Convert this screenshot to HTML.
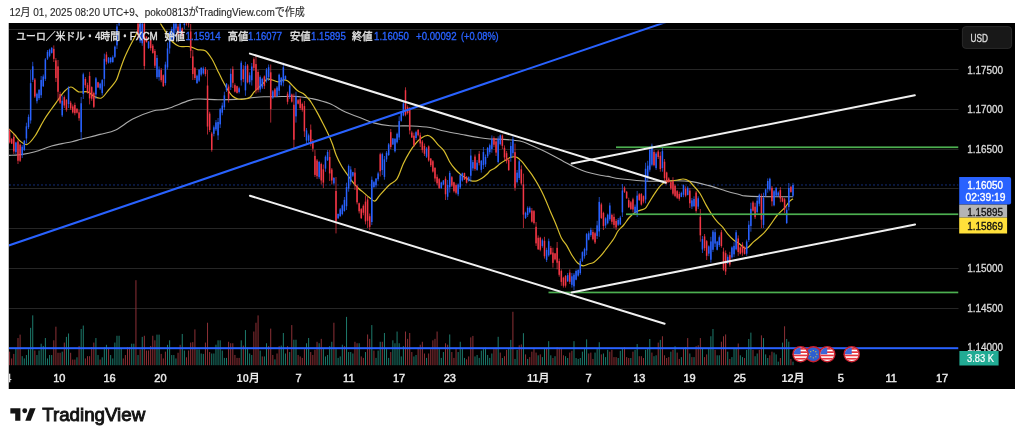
<!DOCTYPE html><html><head><meta charset="utf-8"><style>html,body{margin:0;padding:0;background:#fff;width:1024px;height:441px;overflow:hidden;position:relative}</style></head><body><svg width="1024" height="441" viewBox="0 0 1024 441" style="position:absolute;left:0;top:0">
<defs><clipPath id="pc"><rect x="9" y="23.5" width="949.5" height="365"/></clipPath><clipPath id="cc"><rect x="9" y="23.5" width="1006" height="365"/></clipPath></defs>
<text x="9.4" y="16.4" font-family="'Liberation Sans','Noto Sans CJK JP',sans-serif" font-size="11" fill="#2a2a2a" stroke="#2a2a2a" stroke-width="0.15" textLength="295.3" lengthAdjust="spacingAndGlyphs">12月 01, 2025 08:20 UTC+9、poko0813がTradingView.comで作成</text>
<rect x="9" y="23" width="1006" height="366" fill="#000"/>
<rect x="8" y="23" width="1" height="366" fill="#777" opacity="0.5"/>
<g clip-path="url(#pc)">
<rect x="9" y="29" width="950" height="1" fill="#262626"/>
<rect x="9" y="69" width="950" height="1" fill="#262626"/>
<rect x="9" y="109" width="950" height="1" fill="#262626"/>
<rect x="9" y="149" width="950" height="1" fill="#262626"/>
<rect x="9" y="188" width="950" height="1" fill="#262626"/>
<rect x="9" y="228" width="950" height="1" fill="#262626"/>
<rect x="9" y="268" width="950" height="1" fill="#262626"/>
<rect x="9" y="308" width="950" height="1" fill="#262626"/>
<rect x="9.07" y="351.63" width="1" height="13.57" fill="#8c3036"/>
<rect x="11.17" y="358.44" width="1" height="6.76" fill="#8c3036"/>
<rect x="13.28" y="353.90" width="1" height="11.30" fill="#8c3036"/>
<rect x="15.39" y="348.23" width="1" height="16.97" fill="#1d7a6c"/>
<rect x="17.49" y="338.03" width="1" height="27.17" fill="#8c3036"/>
<rect x="19.60" y="334.63" width="1" height="30.57" fill="#8c3036"/>
<rect x="21.70" y="356.17" width="1" height="9.03" fill="#1d7a6c"/>
<rect x="23.81" y="358.44" width="1" height="6.76" fill="#1d7a6c"/>
<rect x="25.92" y="355.03" width="1" height="10.17" fill="#1d7a6c"/>
<rect x="28.02" y="349.37" width="1" height="15.83" fill="#1d7a6c"/>
<rect x="30.13" y="327.82" width="1" height="37.38" fill="#1d7a6c"/>
<rect x="32.23" y="315.35" width="1" height="49.85" fill="#1d7a6c"/>
<rect x="34.34" y="350.50" width="1" height="14.70" fill="#8c3036"/>
<rect x="36.45" y="355.03" width="1" height="10.17" fill="#1d7a6c"/>
<rect x="38.55" y="350.50" width="1" height="14.70" fill="#1d7a6c"/>
<rect x="40.66" y="343.70" width="1" height="21.50" fill="#1d7a6c"/>
<rect x="42.76" y="345.96" width="1" height="19.24" fill="#1d7a6c"/>
<rect x="44.87" y="338.03" width="1" height="27.17" fill="#1d7a6c"/>
<rect x="46.98" y="358.44" width="1" height="6.76" fill="#1d7a6c"/>
<rect x="49.08" y="355.03" width="1" height="10.17" fill="#1d7a6c"/>
<rect x="51.19" y="355.03" width="1" height="10.17" fill="#1d7a6c"/>
<rect x="53.29" y="340.29" width="1" height="24.91" fill="#8c3036"/>
<rect x="55.40" y="326.69" width="1" height="38.51" fill="#8c3036"/>
<rect x="57.51" y="352.77" width="1" height="12.43" fill="#8c3036"/>
<rect x="59.61" y="352.77" width="1" height="12.43" fill="#8c3036"/>
<rect x="61.72" y="351.63" width="1" height="13.57" fill="#1d7a6c"/>
<rect x="63.82" y="342.56" width="1" height="22.64" fill="#8c3036"/>
<rect x="65.93" y="336.89" width="1" height="28.31" fill="#1d7a6c"/>
<rect x="68.04" y="333.49" width="1" height="31.71" fill="#1d7a6c"/>
<rect x="70.14" y="352.77" width="1" height="12.43" fill="#8c3036"/>
<rect x="72.25" y="359.57" width="1" height="5.63" fill="#8c3036"/>
<rect x="74.35" y="359.57" width="1" height="5.63" fill="#8c3036"/>
<rect x="76.46" y="357.30" width="1" height="7.90" fill="#1d7a6c"/>
<rect x="78.57" y="345.96" width="1" height="19.24" fill="#8c3036"/>
<rect x="80.67" y="328.96" width="1" height="36.24" fill="#1d7a6c"/>
<rect x="82.78" y="325.56" width="1" height="39.64" fill="#1d7a6c"/>
<rect x="84.88" y="358.44" width="1" height="6.76" fill="#8c3036"/>
<rect x="86.99" y="356.17" width="1" height="9.03" fill="#8c3036"/>
<rect x="89.10" y="356.17" width="1" height="9.03" fill="#8c3036"/>
<rect x="91.20" y="347.10" width="1" height="18.10" fill="#8c3036"/>
<rect x="93.31" y="342.56" width="1" height="22.64" fill="#8c3036"/>
<rect x="95.41" y="338.03" width="1" height="27.17" fill="#1d7a6c"/>
<rect x="97.52" y="355.03" width="1" height="10.17" fill="#1d7a6c"/>
<rect x="99.63" y="359.57" width="1" height="5.63" fill="#8c3036"/>
<rect x="101.73" y="357.30" width="1" height="7.90" fill="#1d7a6c"/>
<rect x="103.84" y="347.10" width="1" height="18.10" fill="#1d7a6c"/>
<rect x="105.94" y="344.83" width="1" height="20.37" fill="#1d7a6c"/>
<rect x="108.05" y="348.23" width="1" height="16.97" fill="#8c3036"/>
<rect x="110.16" y="355.03" width="1" height="10.17" fill="#1d7a6c"/>
<rect x="112.26" y="358.44" width="1" height="6.76" fill="#1d7a6c"/>
<rect x="114.37" y="342.56" width="1" height="22.64" fill="#1d7a6c"/>
<rect x="116.47" y="335.76" width="1" height="29.44" fill="#1d7a6c"/>
<rect x="118.58" y="335.76" width="1" height="29.44" fill="#1d7a6c"/>
<rect x="120.69" y="348.23" width="1" height="16.97" fill="#1d7a6c"/>
<rect x="122.79" y="358.44" width="1" height="6.76" fill="#8c3036"/>
<rect x="124.90" y="355.03" width="1" height="10.17" fill="#8c3036"/>
<rect x="127.00" y="347.10" width="1" height="18.10" fill="#8c3036"/>
<rect x="129.11" y="347.10" width="1" height="18.10" fill="#8c3036"/>
<rect x="131.22" y="343.70" width="1" height="21.50" fill="#1d7a6c"/>
<rect x="133.32" y="343.70" width="1" height="21.50" fill="#1d7a6c"/>
<rect x="135.43" y="280.20" width="1" height="85.00" fill="#8c3036"/>
<rect x="137.53" y="355.03" width="1" height="10.17" fill="#1d7a6c"/>
<rect x="139.64" y="349.37" width="1" height="15.83" fill="#8c3036"/>
<rect x="141.75" y="336.89" width="1" height="28.31" fill="#1d7a6c"/>
<rect x="143.85" y="335.76" width="1" height="29.44" fill="#8c3036"/>
<rect x="145.96" y="350.50" width="1" height="14.70" fill="#8c3036"/>
<rect x="148.06" y="350.50" width="1" height="14.70" fill="#8c3036"/>
<rect x="150.17" y="345.96" width="1" height="19.24" fill="#8c3036"/>
<rect x="152.28" y="335.76" width="1" height="29.44" fill="#8c3036"/>
<rect x="154.38" y="340.29" width="1" height="24.91" fill="#8c3036"/>
<rect x="156.49" y="334.63" width="1" height="30.57" fill="#1d7a6c"/>
<rect x="158.59" y="334.63" width="1" height="30.57" fill="#1d7a6c"/>
<rect x="160.70" y="353.90" width="1" height="11.30" fill="#8c3036"/>
<rect x="162.81" y="358.44" width="1" height="6.76" fill="#8c3036"/>
<rect x="164.91" y="351.63" width="1" height="13.57" fill="#8c3036"/>
<rect x="167.02" y="344.83" width="1" height="20.37" fill="#1d7a6c"/>
<rect x="169.12" y="340.29" width="1" height="24.91" fill="#1d7a6c"/>
<rect x="171.23" y="355.03" width="1" height="10.17" fill="#1d7a6c"/>
<rect x="173.34" y="355.03" width="1" height="10.17" fill="#1d7a6c"/>
<rect x="175.44" y="358.44" width="1" height="6.76" fill="#1d7a6c"/>
<rect x="177.55" y="352.77" width="1" height="12.43" fill="#8c3036"/>
<rect x="179.65" y="344.83" width="1" height="20.37" fill="#8c3036"/>
<rect x="181.76" y="333.95" width="1" height="31.25" fill="#1d7a6c"/>
<rect x="183.87" y="350.50" width="1" height="14.70" fill="#1d7a6c"/>
<rect x="185.97" y="357.30" width="1" height="7.90" fill="#8c3036"/>
<rect x="188.08" y="350.50" width="1" height="14.70" fill="#8c3036"/>
<rect x="190.18" y="342.56" width="1" height="22.64" fill="#8c3036"/>
<rect x="192.29" y="342.11" width="1" height="23.09" fill="#8c3036"/>
<rect x="194.40" y="329.41" width="1" height="35.79" fill="#8c3036"/>
<rect x="196.50" y="349.37" width="1" height="15.83" fill="#1d7a6c"/>
<rect x="198.61" y="349.37" width="1" height="15.83" fill="#1d7a6c"/>
<rect x="200.71" y="353.50" width="1" height="11.70" fill="#1d7a6c"/>
<rect x="202.82" y="353.90" width="1" height="11.30" fill="#1d7a6c"/>
<rect x="204.93" y="342.56" width="1" height="22.64" fill="#8c3036"/>
<rect x="207.03" y="322.74" width="1" height="42.46" fill="#8c3036"/>
<rect x="209.14" y="352.04" width="1" height="13.16" fill="#8c3036"/>
<rect x="211.24" y="353.50" width="1" height="11.70" fill="#1d7a6c"/>
<rect x="213.35" y="353.50" width="1" height="11.70" fill="#1d7a6c"/>
<rect x="215.46" y="344.71" width="1" height="20.49" fill="#1d7a6c"/>
<rect x="217.56" y="340.32" width="1" height="24.88" fill="#1d7a6c"/>
<rect x="219.67" y="340.32" width="1" height="24.88" fill="#1d7a6c"/>
<rect x="221.77" y="350.57" width="1" height="14.63" fill="#1d7a6c"/>
<rect x="223.88" y="357.90" width="1" height="7.30" fill="#1d7a6c"/>
<rect x="225.99" y="357.90" width="1" height="7.30" fill="#1d7a6c"/>
<rect x="228.09" y="341.78" width="1" height="23.42" fill="#8c3036"/>
<rect x="230.20" y="343.25" width="1" height="21.95" fill="#8c3036"/>
<rect x="232.30" y="343.25" width="1" height="21.95" fill="#8c3036"/>
<rect x="234.41" y="354.97" width="1" height="10.23" fill="#8c3036"/>
<rect x="236.52" y="357.90" width="1" height="7.30" fill="#8c3036"/>
<rect x="238.62" y="357.90" width="1" height="7.30" fill="#8c3036"/>
<rect x="240.73" y="340.32" width="1" height="24.88" fill="#1d7a6c"/>
<rect x="242.83" y="345.59" width="1" height="19.61" fill="#8c3036"/>
<rect x="244.94" y="330.06" width="1" height="35.14" fill="#1d7a6c"/>
<rect x="247.05" y="347.64" width="1" height="17.56" fill="#1d7a6c"/>
<rect x="249.15" y="353.50" width="1" height="11.70" fill="#1d7a6c"/>
<rect x="251.26" y="354.97" width="1" height="10.23" fill="#1d7a6c"/>
<rect x="253.36" y="331.53" width="1" height="33.67" fill="#8c3036"/>
<rect x="255.47" y="322.74" width="1" height="42.46" fill="#8c3036"/>
<rect x="257.58" y="315.41" width="1" height="49.79" fill="#8c3036"/>
<rect x="259.68" y="350.57" width="1" height="14.63" fill="#1d7a6c"/>
<rect x="261.79" y="356.43" width="1" height="8.77" fill="#8c3036"/>
<rect x="263.89" y="356.43" width="1" height="8.77" fill="#1d7a6c"/>
<rect x="266.00" y="343.25" width="1" height="21.95" fill="#1d7a6c"/>
<rect x="268.11" y="346.18" width="1" height="19.02" fill="#8c3036"/>
<rect x="270.21" y="328.60" width="1" height="36.60" fill="#8c3036"/>
<rect x="272.32" y="354.97" width="1" height="10.23" fill="#8c3036"/>
<rect x="274.42" y="359.36" width="1" height="5.84" fill="#1d7a6c"/>
<rect x="276.53" y="353.50" width="1" height="11.70" fill="#8c3036"/>
<rect x="278.64" y="346.18" width="1" height="19.02" fill="#8c3036"/>
<rect x="280.74" y="345.59" width="1" height="19.61" fill="#1d7a6c"/>
<rect x="282.85" y="332.99" width="1" height="32.21" fill="#1d7a6c"/>
<rect x="284.95" y="353.50" width="1" height="11.70" fill="#1d7a6c"/>
<rect x="287.06" y="346.18" width="1" height="19.02" fill="#8c3036"/>
<rect x="289.17" y="352.04" width="1" height="13.16" fill="#1d7a6c"/>
<rect x="291.27" y="325.08" width="1" height="40.12" fill="#8c3036"/>
<rect x="293.38" y="339.73" width="1" height="25.47" fill="#1d7a6c"/>
<rect x="295.48" y="339.73" width="1" height="25.47" fill="#1d7a6c"/>
<rect x="297.59" y="354.97" width="1" height="10.23" fill="#8c3036"/>
<rect x="299.70" y="356.43" width="1" height="8.77" fill="#8c3036"/>
<rect x="301.80" y="357.90" width="1" height="7.30" fill="#8c3036"/>
<rect x="303.91" y="349.11" width="1" height="16.09" fill="#8c3036"/>
<rect x="306.01" y="343.25" width="1" height="21.95" fill="#1d7a6c"/>
<rect x="308.12" y="337.98" width="1" height="27.22" fill="#1d7a6c"/>
<rect x="310.23" y="352.04" width="1" height="13.16" fill="#8c3036"/>
<rect x="312.33" y="354.97" width="1" height="10.23" fill="#8c3036"/>
<rect x="314.44" y="349.70" width="1" height="15.50" fill="#8c3036"/>
<rect x="316.54" y="341.78" width="1" height="23.42" fill="#8c3036"/>
<rect x="318.65" y="343.25" width="1" height="21.95" fill="#1d7a6c"/>
<rect x="320.76" y="338.85" width="1" height="26.35" fill="#8c3036"/>
<rect x="322.86" y="349.11" width="1" height="16.09" fill="#1d7a6c"/>
<rect x="324.97" y="356.43" width="1" height="8.77" fill="#1d7a6c"/>
<rect x="327.07" y="354.97" width="1" height="10.23" fill="#1d7a6c"/>
<rect x="329.18" y="346.18" width="1" height="19.02" fill="#1d7a6c"/>
<rect x="331.29" y="341.78" width="1" height="23.42" fill="#1d7a6c"/>
<rect x="333.39" y="322.74" width="1" height="42.46" fill="#8c3036"/>
<rect x="335.50" y="349.11" width="1" height="16.09" fill="#1d7a6c"/>
<rect x="337.60" y="357.90" width="1" height="7.30" fill="#1d7a6c"/>
<rect x="339.71" y="356.43" width="1" height="8.77" fill="#1d7a6c"/>
<rect x="341.82" y="344.71" width="1" height="20.49" fill="#1d7a6c"/>
<rect x="343.92" y="346.18" width="1" height="19.02" fill="#8c3036"/>
<rect x="346.03" y="316.88" width="1" height="48.32" fill="#1d7a6c"/>
<rect x="348.13" y="352.04" width="1" height="13.16" fill="#1d7a6c"/>
<rect x="350.24" y="352.04" width="1" height="13.16" fill="#1d7a6c"/>
<rect x="352.35" y="353.50" width="1" height="11.70" fill="#1d7a6c"/>
<rect x="354.45" y="341.78" width="1" height="23.42" fill="#8c3036"/>
<rect x="356.56" y="343.25" width="1" height="21.95" fill="#8c3036"/>
<rect x="358.66" y="343.25" width="1" height="21.95" fill="#1d7a6c"/>
<rect x="360.77" y="356.43" width="1" height="8.77" fill="#8c3036"/>
<rect x="362.88" y="357.90" width="1" height="7.30" fill="#8c3036"/>
<rect x="364.98" y="352.04" width="1" height="13.16" fill="#1d7a6c"/>
<rect x="367.09" y="334.46" width="1" height="30.74" fill="#8c3036"/>
<rect x="369.19" y="338.85" width="1" height="26.35" fill="#8c3036"/>
<rect x="371.30" y="325.08" width="1" height="40.12" fill="#1d7a6c"/>
<rect x="373.41" y="350.57" width="1" height="14.63" fill="#8c3036"/>
<rect x="375.51" y="357.90" width="1" height="7.30" fill="#1d7a6c"/>
<rect x="377.62" y="350.57" width="1" height="14.63" fill="#1d7a6c"/>
<rect x="379.72" y="341.78" width="1" height="23.42" fill="#1d7a6c"/>
<rect x="381.83" y="341.78" width="1" height="23.42" fill="#8c3036"/>
<rect x="383.94" y="332.99" width="1" height="32.21" fill="#1d7a6c"/>
<rect x="386.04" y="349.11" width="1" height="16.09" fill="#1d7a6c"/>
<rect x="388.15" y="357.90" width="1" height="7.30" fill="#1d7a6c"/>
<rect x="390.25" y="352.04" width="1" height="13.16" fill="#8c3036"/>
<rect x="392.36" y="340.32" width="1" height="24.88" fill="#1d7a6c"/>
<rect x="394.47" y="343.25" width="1" height="21.95" fill="#1d7a6c"/>
<rect x="396.57" y="331.53" width="1" height="33.67" fill="#1d7a6c"/>
<rect x="398.68" y="343.25" width="1" height="21.95" fill="#1d7a6c"/>
<rect x="400.78" y="356.43" width="1" height="8.77" fill="#1d7a6c"/>
<rect x="402.89" y="346.18" width="1" height="19.02" fill="#1d7a6c"/>
<rect x="405.00" y="331.53" width="1" height="33.67" fill="#8c3036"/>
<rect x="407.10" y="338.85" width="1" height="26.35" fill="#8c3036"/>
<rect x="409.21" y="332.99" width="1" height="32.21" fill="#8c3036"/>
<rect x="411.31" y="352.04" width="1" height="13.16" fill="#8c3036"/>
<rect x="413.42" y="356.43" width="1" height="8.77" fill="#1d7a6c"/>
<rect x="415.53" y="354.97" width="1" height="10.23" fill="#1d7a6c"/>
<rect x="417.63" y="347.64" width="1" height="17.56" fill="#8c3036"/>
<rect x="419.74" y="344.71" width="1" height="20.49" fill="#8c3036"/>
<rect x="421.84" y="341.78" width="1" height="23.42" fill="#8c3036"/>
<rect x="423.95" y="353.50" width="1" height="11.70" fill="#8c3036"/>
<rect x="426.06" y="357.90" width="1" height="7.30" fill="#1d7a6c"/>
<rect x="428.16" y="353.50" width="1" height="11.70" fill="#8c3036"/>
<rect x="430.27" y="349.11" width="1" height="16.09" fill="#8c3036"/>
<rect x="432.37" y="340.32" width="1" height="24.88" fill="#8c3036"/>
<rect x="434.48" y="338.85" width="1" height="26.35" fill="#8c3036"/>
<rect x="436.59" y="331.53" width="1" height="33.67" fill="#8c3036"/>
<rect x="438.69" y="349.11" width="1" height="16.09" fill="#1d7a6c"/>
<rect x="440.80" y="357.90" width="1" height="7.30" fill="#1d7a6c"/>
<rect x="442.90" y="352.04" width="1" height="13.16" fill="#1d7a6c"/>
<rect x="445.01" y="343.25" width="1" height="21.95" fill="#8c3036"/>
<rect x="447.12" y="344.71" width="1" height="20.49" fill="#8c3036"/>
<rect x="449.22" y="334.46" width="1" height="30.74" fill="#1d7a6c"/>
<rect x="451.33" y="352.04" width="1" height="13.16" fill="#8c3036"/>
<rect x="453.43" y="357.90" width="1" height="7.30" fill="#8c3036"/>
<rect x="455.54" y="349.11" width="1" height="16.09" fill="#8c3036"/>
<rect x="457.65" y="352.04" width="1" height="13.16" fill="#1d7a6c"/>
<rect x="459.75" y="341.78" width="1" height="23.42" fill="#1d7a6c"/>
<rect x="461.86" y="349.11" width="1" height="16.09" fill="#1d7a6c"/>
<rect x="463.96" y="357.90" width="1" height="7.30" fill="#1d7a6c"/>
<rect x="466.07" y="359.36" width="1" height="5.84" fill="#8c3036"/>
<rect x="468.18" y="356.43" width="1" height="8.77" fill="#8c3036"/>
<rect x="470.28" y="337.39" width="1" height="27.81" fill="#8c3036"/>
<rect x="472.39" y="335.92" width="1" height="29.28" fill="#8c3036"/>
<rect x="474.49" y="356.43" width="1" height="8.77" fill="#1d7a6c"/>
<rect x="476.60" y="354.97" width="1" height="10.23" fill="#1d7a6c"/>
<rect x="478.71" y="357.90" width="1" height="7.30" fill="#1d7a6c"/>
<rect x="480.81" y="350.57" width="1" height="14.63" fill="#1d7a6c"/>
<rect x="482.92" y="349.11" width="1" height="16.09" fill="#1d7a6c"/>
<rect x="485.02" y="347.64" width="1" height="17.56" fill="#1d7a6c"/>
<rect x="487.13" y="354.97" width="1" height="10.23" fill="#1d7a6c"/>
<rect x="489.24" y="357.90" width="1" height="7.30" fill="#1d7a6c"/>
<rect x="491.34" y="353.50" width="1" height="11.70" fill="#1d7a6c"/>
<rect x="493.45" y="349.11" width="1" height="16.09" fill="#8c3036"/>
<rect x="495.55" y="347.64" width="1" height="17.56" fill="#8c3036"/>
<rect x="497.66" y="336.80" width="1" height="28.40" fill="#1d7a6c"/>
<rect x="499.77" y="352.58" width="1" height="12.62" fill="#8c3036"/>
<rect x="501.87" y="358.02" width="1" height="7.18" fill="#1d7a6c"/>
<rect x="503.98" y="356.21" width="1" height="8.99" fill="#8c3036"/>
<rect x="506.08" y="349.86" width="1" height="15.34" fill="#8c3036"/>
<rect x="508.19" y="348.04" width="1" height="17.16" fill="#1d7a6c"/>
<rect x="510.30" y="339.88" width="1" height="25.32" fill="#1d7a6c"/>
<rect x="512.40" y="311.77" width="1" height="53.43" fill="#8c3036"/>
<rect x="514.51" y="358.93" width="1" height="6.27" fill="#1d7a6c"/>
<rect x="516.61" y="349.86" width="1" height="15.34" fill="#1d7a6c"/>
<rect x="518.72" y="345.32" width="1" height="19.88" fill="#8c3036"/>
<rect x="520.83" y="344.42" width="1" height="20.78" fill="#8c3036"/>
<rect x="522.93" y="333.17" width="1" height="32.03" fill="#1d7a6c"/>
<rect x="525.04" y="354.39" width="1" height="10.81" fill="#8c3036"/>
<rect x="527.14" y="358.93" width="1" height="6.27" fill="#1d7a6c"/>
<rect x="529.25" y="357.11" width="1" height="8.09" fill="#8c3036"/>
<rect x="531.36" y="351.67" width="1" height="13.53" fill="#8c3036"/>
<rect x="533.46" y="348.95" width="1" height="16.25" fill="#8c3036"/>
<rect x="535.57" y="352.58" width="1" height="12.62" fill="#8c3036"/>
<rect x="537.67" y="355.30" width="1" height="9.90" fill="#1d7a6c"/>
<rect x="539.78" y="354.39" width="1" height="10.81" fill="#8c3036"/>
<rect x="541.89" y="357.11" width="1" height="8.09" fill="#1d7a6c"/>
<rect x="543.99" y="348.95" width="1" height="16.25" fill="#1d7a6c"/>
<rect x="546.10" y="348.95" width="1" height="16.25" fill="#8c3036"/>
<rect x="548.20" y="341.15" width="1" height="24.05" fill="#1d7a6c"/>
<rect x="550.31" y="355.30" width="1" height="9.90" fill="#1d7a6c"/>
<rect x="552.42" y="358.02" width="1" height="7.18" fill="#8c3036"/>
<rect x="554.52" y="356.21" width="1" height="8.99" fill="#1d7a6c"/>
<rect x="556.63" y="347.14" width="1" height="18.06" fill="#8c3036"/>
<rect x="558.73" y="348.95" width="1" height="16.25" fill="#8c3036"/>
<rect x="560.84" y="348.04" width="1" height="17.16" fill="#8c3036"/>
<rect x="562.95" y="355.30" width="1" height="9.90" fill="#8c3036"/>
<rect x="565.05" y="356.21" width="1" height="8.99" fill="#1d7a6c"/>
<rect x="567.16" y="358.02" width="1" height="7.18" fill="#1d7a6c"/>
<rect x="569.26" y="352.58" width="1" height="12.62" fill="#8c3036"/>
<rect x="571.37" y="350.77" width="1" height="14.43" fill="#8c3036"/>
<rect x="573.48" y="341.15" width="1" height="24.05" fill="#1d7a6c"/>
<rect x="575.58" y="358.02" width="1" height="7.18" fill="#1d7a6c"/>
<rect x="577.69" y="358.93" width="1" height="6.27" fill="#1d7a6c"/>
<rect x="579.79" y="358.02" width="1" height="7.18" fill="#1d7a6c"/>
<rect x="581.90" y="351.67" width="1" height="13.53" fill="#1d7a6c"/>
<rect x="584.01" y="348.04" width="1" height="17.16" fill="#1d7a6c"/>
<rect x="586.11" y="339.34" width="1" height="25.86" fill="#1d7a6c"/>
<rect x="588.22" y="353.49" width="1" height="11.71" fill="#8c3036"/>
<rect x="590.32" y="352.58" width="1" height="12.62" fill="#8c3036"/>
<rect x="592.43" y="358.93" width="1" height="6.27" fill="#8c3036"/>
<rect x="594.54" y="352.58" width="1" height="12.62" fill="#1d7a6c"/>
<rect x="596.64" y="348.04" width="1" height="17.16" fill="#1d7a6c"/>
<rect x="598.75" y="342.24" width="1" height="22.96" fill="#1d7a6c"/>
<rect x="600.85" y="354.39" width="1" height="10.81" fill="#8c3036"/>
<rect x="602.96" y="353.49" width="1" height="11.71" fill="#1d7a6c"/>
<rect x="605.07" y="357.11" width="1" height="8.09" fill="#1d7a6c"/>
<rect x="607.17" y="349.86" width="1" height="15.34" fill="#1d7a6c"/>
<rect x="609.28" y="351.67" width="1" height="13.53" fill="#8c3036"/>
<rect x="611.38" y="349.86" width="1" height="15.34" fill="#8c3036"/>
<rect x="613.49" y="357.11" width="1" height="8.09" fill="#8c3036"/>
<rect x="615.60" y="357.11" width="1" height="8.09" fill="#8c3036"/>
<rect x="617.70" y="358.02" width="1" height="7.18" fill="#1d7a6c"/>
<rect x="619.81" y="350.77" width="1" height="14.43" fill="#1d7a6c"/>
<rect x="621.91" y="348.04" width="1" height="17.16" fill="#1d7a6c"/>
<rect x="624.02" y="347.14" width="1" height="18.06" fill="#8c3036"/>
<rect x="626.13" y="357.11" width="1" height="8.09" fill="#8c3036"/>
<rect x="628.23" y="358.02" width="1" height="7.18" fill="#8c3036"/>
<rect x="630.34" y="358.02" width="1" height="7.18" fill="#1d7a6c"/>
<rect x="632.44" y="351.67" width="1" height="13.53" fill="#8c3036"/>
<rect x="634.55" y="349.86" width="1" height="15.34" fill="#1d7a6c"/>
<rect x="636.66" y="344.05" width="1" height="21.15" fill="#1d7a6c"/>
<rect x="638.76" y="356.21" width="1" height="8.99" fill="#8c3036"/>
<rect x="640.87" y="356.21" width="1" height="8.99" fill="#8c3036"/>
<rect x="642.97" y="358.02" width="1" height="7.18" fill="#8c3036"/>
<rect x="645.08" y="349.86" width="1" height="15.34" fill="#1d7a6c"/>
<rect x="647.19" y="348.95" width="1" height="16.25" fill="#1d7a6c"/>
<rect x="649.29" y="338.98" width="1" height="26.22" fill="#1d7a6c"/>
<rect x="651.40" y="352.58" width="1" height="12.62" fill="#8c3036"/>
<rect x="653.50" y="356.21" width="1" height="8.99" fill="#1d7a6c"/>
<rect x="655.61" y="355.30" width="1" height="9.90" fill="#1d7a6c"/>
<rect x="657.72" y="342.60" width="1" height="22.60" fill="#8c3036"/>
<rect x="659.82" y="339.88" width="1" height="25.32" fill="#1d7a6c"/>
<rect x="661.93" y="336.25" width="1" height="28.95" fill="#8c3036"/>
<rect x="664.03" y="355.30" width="1" height="9.90" fill="#8c3036"/>
<rect x="666.14" y="358.02" width="1" height="7.18" fill="#8c3036"/>
<rect x="668.25" y="357.11" width="1" height="8.09" fill="#8c3036"/>
<rect x="670.35" y="351.67" width="1" height="13.53" fill="#1d7a6c"/>
<rect x="672.46" y="349.86" width="1" height="15.34" fill="#8c3036"/>
<rect x="674.56" y="346.23" width="1" height="18.97" fill="#1d7a6c"/>
<rect x="676.67" y="352.58" width="1" height="12.62" fill="#8c3036"/>
<rect x="678.78" y="358.93" width="1" height="6.27" fill="#8c3036"/>
<rect x="680.88" y="357.11" width="1" height="8.09" fill="#1d7a6c"/>
<rect x="682.99" y="348.95" width="1" height="16.25" fill="#8c3036"/>
<rect x="685.09" y="347.14" width="1" height="18.06" fill="#1d7a6c"/>
<rect x="687.20" y="338.07" width="1" height="27.13" fill="#8c3036"/>
<rect x="689.31" y="353.49" width="1" height="11.71" fill="#1d7a6c"/>
<rect x="691.41" y="357.11" width="1" height="8.09" fill="#8c3036"/>
<rect x="693.52" y="357.11" width="1" height="8.09" fill="#1d7a6c"/>
<rect x="695.62" y="346.23" width="1" height="18.97" fill="#8c3036"/>
<rect x="697.73" y="345.32" width="1" height="19.88" fill="#8c3036"/>
<rect x="699.84" y="338.07" width="1" height="27.13" fill="#8c3036"/>
<rect x="701.94" y="348.95" width="1" height="16.25" fill="#1d7a6c"/>
<rect x="704.05" y="357.11" width="1" height="8.09" fill="#8c3036"/>
<rect x="706.15" y="354.39" width="1" height="10.81" fill="#8c3036"/>
<rect x="708.26" y="348.95" width="1" height="16.25" fill="#1d7a6c"/>
<rect x="710.37" y="336.25" width="1" height="28.95" fill="#1d7a6c"/>
<rect x="712.47" y="329.00" width="1" height="36.20" fill="#1d7a6c"/>
<rect x="714.58" y="349.86" width="1" height="15.34" fill="#8c3036"/>
<rect x="716.68" y="355.30" width="1" height="9.90" fill="#1d7a6c"/>
<rect x="718.79" y="355.30" width="1" height="9.90" fill="#1d7a6c"/>
<rect x="720.90" y="341.70" width="1" height="23.50" fill="#8c3036"/>
<rect x="723.00" y="336.25" width="1" height="28.95" fill="#8c3036"/>
<rect x="725.11" y="334.44" width="1" height="30.76" fill="#8c3036"/>
<rect x="727.21" y="351.67" width="1" height="13.53" fill="#1d7a6c"/>
<rect x="729.32" y="358.93" width="1" height="6.27" fill="#8c3036"/>
<rect x="731.43" y="357.11" width="1" height="8.09" fill="#1d7a6c"/>
<rect x="733.53" y="348.04" width="1" height="17.16" fill="#1d7a6c"/>
<rect x="735.64" y="348.95" width="1" height="16.25" fill="#1d7a6c"/>
<rect x="737.74" y="343.51" width="1" height="21.69" fill="#8c3036"/>
<rect x="739.85" y="355.30" width="1" height="9.90" fill="#1d7a6c"/>
<rect x="741.96" y="357.11" width="1" height="8.09" fill="#1d7a6c"/>
<rect x="744.06" y="358.02" width="1" height="7.18" fill="#8c3036"/>
<rect x="746.17" y="349.86" width="1" height="15.34" fill="#1d7a6c"/>
<rect x="748.27" y="338.98" width="1" height="26.22" fill="#1d7a6c"/>
<rect x="750.38" y="332.63" width="1" height="32.57" fill="#1d7a6c"/>
<rect x="752.49" y="349.86" width="1" height="15.34" fill="#8c3036"/>
<rect x="754.59" y="356.21" width="1" height="8.99" fill="#1d7a6c"/>
<rect x="756.70" y="353.49" width="1" height="11.71" fill="#1d7a6c"/>
<rect x="758.80" y="349.86" width="1" height="15.34" fill="#8c3036"/>
<rect x="760.91" y="335.35" width="1" height="29.85" fill="#8c3036"/>
<rect x="763.02" y="338.07" width="1" height="27.13" fill="#1d7a6c"/>
<rect x="765.12" y="354.39" width="1" height="10.81" fill="#1d7a6c"/>
<rect x="767.23" y="358.02" width="1" height="7.18" fill="#1d7a6c"/>
<rect x="769.33" y="355.30" width="1" height="9.90" fill="#8c3036"/>
<rect x="771.44" y="351.67" width="1" height="13.53" fill="#8c3036"/>
<rect x="773.55" y="352.58" width="1" height="12.62" fill="#1d7a6c"/>
<rect x="775.65" y="354.39" width="1" height="10.81" fill="#1d7a6c"/>
<rect x="777.76" y="361.65" width="1" height="3.55" fill="#1d7a6c"/>
<rect x="779.86" y="358.02" width="1" height="7.18" fill="#8c3036"/>
<rect x="781.97" y="342.60" width="1" height="22.60" fill="#1d7a6c"/>
<rect x="784.08" y="326.28" width="1" height="38.92" fill="#8c3036"/>
<rect x="786.18" y="338.98" width="1" height="26.22" fill="#1d7a6c"/>
<rect x="788.29" y="341.70" width="1" height="23.50" fill="#1d7a6c"/>
<rect x="790.39" y="358.93" width="1" height="6.27" fill="#8c3036"/>
<rect x="792.50" y="361.65" width="1" height="3.55" fill="#1d7a6c"/>
<line x1="9" y1="184.98" x2="958.5" y2="184.98" stroke="#2962ff" stroke-width="1" stroke-dasharray="2,2" opacity="0.45"/>
<path d="M9.00,155.40 C11.25,155.23 18.17,155.02 22.50,154.40 C26.83,153.78 30.17,153.10 35.00,151.70 C39.83,150.30 47.00,147.35 51.50,146.00 C56.00,144.65 58.58,144.32 62.00,143.60 C65.42,142.88 68.67,142.47 72.00,141.70 C75.33,140.93 77.33,140.22 82.00,139.00 C86.67,137.78 94.38,135.90 100.00,134.40 C105.62,132.90 110.25,132.57 115.70,130.00 C121.15,127.43 126.48,122.17 132.70,119.00 C138.92,115.83 147.33,112.68 153.00,111.00 C158.67,109.32 160.63,110.67 166.70,108.90 C172.77,107.13 183.85,102.05 189.40,100.40 C194.95,98.75 195.23,99.10 200.00,99.00 C204.77,98.90 212.00,99.73 218.00,99.80 C224.00,99.87 230.00,99.78 236.00,99.40 C242.00,99.02 249.33,97.93 254.00,97.50 C258.67,97.07 260.67,96.92 264.00,96.80 C267.33,96.68 269.33,96.88 274.00,96.80 C278.67,96.72 287.67,96.30 292.00,96.30 C296.33,96.30 296.78,96.43 300.00,96.80 C303.22,97.17 306.38,97.37 311.30,98.50 C316.22,99.63 323.82,101.33 329.50,103.60 C335.18,105.87 340.48,109.83 345.40,112.10 C350.32,114.37 354.28,115.40 359.00,117.20 C363.72,119.00 368.53,121.48 373.70,122.90 C378.87,124.32 383.62,125.18 390.00,125.70 C396.38,126.22 405.33,125.70 412.00,126.00 C418.67,126.30 424.67,126.67 430.00,127.50 C435.33,128.33 438.67,129.83 444.00,131.00 C449.33,132.17 456.00,133.37 462.00,134.50 C468.00,135.63 475.33,137.05 480.00,137.80 C484.67,138.55 486.33,138.75 490.00,139.00 C493.67,139.25 497.00,138.97 502.00,139.30 C507.00,139.63 515.33,140.10 520.00,141.00 C524.67,141.90 526.45,143.23 530.00,144.70 C533.55,146.17 537.52,148.00 541.30,149.80 C545.08,151.60 548.92,153.52 552.70,155.50 C556.48,157.48 560.22,159.72 564.00,161.70 C567.78,163.68 571.62,165.68 575.40,167.40 C579.18,169.12 582.93,170.77 586.70,172.00 C590.47,173.23 594.45,174.07 598.00,174.80 C601.55,175.53 604.33,175.73 608.00,176.40 C611.67,177.07 614.00,178.03 620.00,178.80 C626.00,179.57 638.33,180.60 644.00,181.00 C649.67,181.40 649.33,181.23 654.00,181.20 C658.67,181.17 666.00,180.77 672.00,180.80 C678.00,180.83 684.00,180.63 690.00,181.40 C696.00,182.17 702.00,183.80 708.00,185.40 C714.00,187.00 720.83,189.48 726.00,191.00 C731.17,192.52 735.83,193.68 739.00,194.50 C742.17,195.32 741.55,195.55 745.00,195.90 C748.45,196.25 751.70,196.45 759.70,196.60 C767.70,196.75 787.45,196.77 793.00,196.80" fill="none" stroke="#aaaaaa" stroke-width="1.1"/>
<path d="M9.00,129.00 C10.00,130.00 13.17,133.00 15.00,135.00 C16.83,137.00 18.00,139.42 20.00,141.00 C22.00,142.58 24.50,145.33 27.00,144.50 C29.50,143.67 32.17,140.08 35.00,136.00 C37.83,131.92 41.25,124.50 44.00,120.00 C46.75,115.50 49.17,112.33 51.50,109.00 C53.83,105.67 55.92,102.87 58.00,100.00 C60.08,97.13 61.83,93.97 64.00,91.80 C66.17,89.63 68.58,87.00 71.00,87.00 C73.42,87.00 75.73,91.00 78.50,91.80 C81.27,92.60 85.02,91.05 87.60,91.80 C90.18,92.55 91.70,95.27 94.00,96.30 C96.30,97.33 98.97,99.05 101.40,98.00 C103.83,96.95 106.17,92.87 108.60,90.00 C111.03,87.13 114.22,83.80 116.00,80.80 C117.78,77.80 118.00,75.57 119.30,72.00 C120.60,68.43 122.18,63.40 123.80,59.40 C125.42,55.40 127.30,51.50 129.00,48.00 C130.70,44.50 132.62,41.10 134.00,38.40 C135.38,35.70 136.30,34.20 137.30,31.80 C138.30,29.40 138.88,27.30 140.00,24.00 C141.12,20.70 142.33,15.67 144.00,12.00 C145.67,8.33 148.00,2.67 150.00,2.00 C152.00,1.33 154.35,4.67 156.00,8.00 C157.65,11.33 158.48,18.35 159.90,22.00 C161.32,25.65 163.08,27.48 164.50,29.90 C165.92,32.32 167.08,34.53 168.40,36.50 C169.72,38.47 170.63,40.07 172.40,41.70 C174.17,43.33 176.73,45.50 179.00,46.30 C181.27,47.10 184.03,46.42 186.00,46.50 C187.97,46.58 188.90,46.28 190.80,46.80 C192.70,47.32 194.98,48.93 197.40,49.60 C199.82,50.27 202.90,49.27 205.30,50.80 C207.70,52.33 209.83,55.70 211.80,58.80 C213.77,61.90 215.43,66.03 217.10,69.40 C218.77,72.77 220.12,75.73 221.80,79.00 C223.48,82.27 225.38,86.12 227.20,89.00 C229.02,91.88 230.90,94.63 232.70,96.30 C234.50,97.97 235.88,98.55 238.00,99.00 C240.12,99.45 243.40,99.30 245.40,99.00 C247.40,98.70 248.50,98.42 250.00,97.20 C251.50,95.98 252.73,93.52 254.40,91.70 C256.07,89.88 258.40,87.80 260.00,86.30 C261.60,84.80 262.83,83.92 264.00,82.70 C265.17,81.48 265.62,79.45 267.00,79.00 C268.38,78.55 270.50,79.53 272.30,80.00 C274.10,80.47 275.98,81.80 277.80,81.80 C279.62,81.80 281.53,80.13 283.20,80.00 C284.87,79.87 286.28,80.10 287.80,81.00 C289.32,81.90 290.65,83.77 292.30,85.40 C293.95,87.03 295.88,89.43 297.70,90.80 C299.52,92.17 301.38,92.23 303.20,93.60 C305.02,94.97 307.25,97.52 308.60,99.00 C309.95,100.48 309.90,100.32 311.30,102.50 C312.70,104.68 315.10,108.70 317.00,112.10 C318.90,115.50 320.82,119.22 322.70,122.90 C324.58,126.58 326.65,130.60 328.30,134.20 C329.95,137.80 331.27,140.97 332.60,144.50 C333.93,148.03 334.78,151.77 336.30,155.40 C337.82,159.03 340.18,163.57 341.70,166.30 C343.22,169.03 343.72,169.37 345.40,171.80 C347.08,174.23 349.70,178.20 351.80,180.90 C353.90,183.60 356.03,186.05 358.00,188.00 C359.97,189.95 361.77,191.07 363.60,192.60 C365.43,194.13 367.13,195.78 369.00,197.20 C370.87,198.62 373.05,201.37 374.80,201.10 C376.55,200.83 377.13,198.25 379.50,195.60 C381.87,192.95 386.08,187.98 389.00,185.20 C391.92,182.42 394.62,182.47 397.00,178.90 C399.38,175.33 401.18,168.30 403.30,163.80 C405.42,159.30 407.58,155.33 409.70,151.90 C411.82,148.47 414.05,145.52 416.00,143.20 C417.95,140.88 419.45,139.30 421.40,138.00 C423.35,136.70 425.88,135.40 427.70,135.40 C429.52,135.40 430.63,136.50 432.30,138.00 C433.97,139.50 435.75,142.25 437.70,144.40 C439.65,146.55 442.02,148.02 444.00,150.90 C445.98,153.78 447.77,158.68 449.60,161.70 C451.43,164.72 453.18,166.88 455.00,169.00 C456.82,171.12 458.67,172.90 460.50,174.40 C462.33,175.90 464.18,176.93 466.00,178.00 C467.82,179.07 469.60,180.33 471.40,180.80 C473.20,181.27 474.98,181.27 476.80,180.80 C478.62,180.33 480.48,179.22 482.30,178.00 C484.12,176.78 486.42,174.70 487.70,173.50 C488.98,172.30 488.78,171.72 490.00,170.80 C491.22,169.88 493.28,169.22 495.00,168.00 C496.72,166.78 498.50,164.83 500.30,163.50 C502.10,162.17 503.98,161.05 505.80,160.00 C507.62,158.95 509.38,157.67 511.20,157.20 C513.02,156.73 514.90,156.45 516.70,157.20 C518.50,157.95 520.18,159.73 522.00,161.70 C523.82,163.67 525.77,166.57 527.60,169.00 C529.43,171.43 531.20,173.58 533.00,176.30 C534.80,179.02 536.57,181.98 538.40,185.30 C540.23,188.62 541.98,191.80 544.00,196.20 C546.02,200.60 548.50,207.00 550.50,211.70 C552.50,216.40 554.18,220.02 556.00,224.40 C557.82,228.78 559.58,234.42 561.40,238.00 C563.22,241.58 565.08,242.93 566.90,245.90 C568.72,248.87 570.50,252.95 572.30,255.80 C574.10,258.65 575.88,261.33 577.70,263.00 C579.52,264.67 581.38,265.63 583.20,265.80 C585.02,265.97 586.80,264.60 588.60,264.00 C590.40,263.40 592.10,263.42 594.00,262.20 C595.90,260.98 598.10,258.73 600.00,256.70 C601.90,254.67 603.13,252.95 605.40,250.00 C607.67,247.05 611.50,242.17 613.60,239.00 C615.70,235.83 616.32,233.33 618.00,231.00 C619.68,228.67 621.82,227.25 623.70,225.00 C625.58,222.75 627.42,219.60 629.30,217.50 C631.18,215.40 633.10,213.63 635.00,212.40 C636.90,211.17 639.00,210.77 640.70,210.10 C642.40,209.43 643.88,209.53 645.20,208.40 C646.52,207.27 647.47,205.08 648.60,203.30 C649.73,201.52 650.68,199.77 652.00,197.70 C653.32,195.63 655.00,192.98 656.50,190.90 C658.00,188.82 659.48,186.72 661.00,185.20 C662.52,183.68 663.72,182.53 665.60,181.80 C667.48,181.07 670.28,181.10 672.30,180.80 C674.32,180.50 675.88,180.30 677.70,180.00 C679.52,179.70 681.38,178.87 683.20,179.00 C685.02,179.13 686.80,179.58 688.60,180.80 C690.40,182.02 692.10,184.18 694.00,186.30 C695.90,188.42 697.95,190.32 700.00,193.50 C702.05,196.68 704.33,201.90 706.30,205.40 C708.27,208.90 709.98,211.78 711.80,214.50 C713.62,217.22 715.38,219.58 717.20,221.70 C719.02,223.82 720.90,225.08 722.70,227.20 C724.50,229.32 726.18,232.27 728.00,234.40 C729.82,236.53 731.77,238.48 733.60,240.00 C735.43,241.52 737.20,242.17 739.00,243.50 C740.80,244.83 742.90,247.33 744.40,248.00 C745.90,248.67 746.43,248.57 748.00,247.50 C749.57,246.43 751.35,243.82 753.80,241.60 C756.25,239.38 760.00,236.90 762.70,234.20 C765.40,231.50 767.55,228.60 770.00,225.40 C772.45,222.20 774.93,217.95 777.40,215.00 C779.87,212.05 782.83,209.90 784.80,207.70 C786.77,205.50 787.83,203.28 789.20,201.80 C790.57,200.32 792.37,199.30 793.00,198.80" fill="none" stroke="#d7bd2c" stroke-width="1.2"/>
<rect x="9.07" y="129.00" width="1" height="14.50" fill="#f23645" fill-opacity="0.7"/>
<rect x="8.82" y="130.66" width="1.5" height="11.67" fill="#f23645"/>
<rect x="11.17" y="138.00" width="1" height="6.00" fill="#f23645" fill-opacity="0.7"/>
<rect x="10.92" y="139.08" width="1.5" height="4.53" fill="#f23645"/>
<rect x="13.28" y="133.60" width="1" height="20.40" fill="#f23645" fill-opacity="0.7"/>
<rect x="13.03" y="136.81" width="1.5" height="14.68" fill="#f23645"/>
<rect x="15.39" y="141.70" width="1" height="12.30" fill="#2962ff" fill-opacity="0.7"/>
<rect x="15.14" y="142.46" width="1.5" height="9.68" fill="#2962ff"/>
<rect x="17.49" y="140.00" width="1" height="24.00" fill="#f23645" fill-opacity="0.7"/>
<rect x="17.24" y="141.38" width="1.5" height="19.34" fill="#f23645"/>
<rect x="19.60" y="143.50" width="1" height="18.50" fill="#f23645" fill-opacity="0.7"/>
<rect x="19.35" y="144.68" width="1.5" height="16.06" fill="#f23645"/>
<rect x="21.70" y="145.00" width="1" height="13.00" fill="#2962ff" fill-opacity="0.7"/>
<rect x="21.45" y="146.75" width="1.5" height="8.45" fill="#2962ff"/>
<rect x="23.81" y="140.00" width="1" height="11.00" fill="#2962ff" fill-opacity="0.7"/>
<rect x="23.56" y="140.82" width="1.5" height="9.14" fill="#2962ff"/>
<rect x="25.92" y="122.70" width="1" height="20.80" fill="#2962ff" fill-opacity="0.7"/>
<rect x="25.67" y="126.35" width="1.5" height="12.17" fill="#2962ff"/>
<rect x="28.02" y="114.50" width="1" height="14.50" fill="#2962ff" fill-opacity="0.7"/>
<rect x="27.77" y="116.90" width="1.5" height="10.23" fill="#2962ff"/>
<rect x="30.13" y="70.00" width="1" height="53.60" fill="#2962ff" fill-opacity="0.7"/>
<rect x="29.88" y="83.15" width="1.5" height="37.28" fill="#2962ff"/>
<rect x="32.23" y="61.80" width="1" height="20.20" fill="#2962ff" fill-opacity="0.7"/>
<rect x="31.98" y="66.28" width="1.5" height="13.54" fill="#2962ff"/>
<rect x="34.34" y="78.00" width="1" height="20.00" fill="#f23645" fill-opacity="0.7"/>
<rect x="34.09" y="79.58" width="1.5" height="16.95" fill="#f23645"/>
<rect x="36.45" y="92.60" width="1" height="10.90" fill="#2962ff" fill-opacity="0.7"/>
<rect x="36.20" y="93.82" width="1.5" height="7.36" fill="#2962ff"/>
<rect x="38.55" y="89.00" width="1" height="11.00" fill="#2962ff" fill-opacity="0.7"/>
<rect x="38.30" y="89.95" width="1.5" height="8.22" fill="#2962ff"/>
<rect x="40.66" y="76.00" width="1" height="22.00" fill="#2962ff" fill-opacity="0.7"/>
<rect x="40.41" y="79.91" width="1.5" height="15.35" fill="#2962ff"/>
<rect x="42.76" y="74.50" width="1" height="12.50" fill="#2962ff" fill-opacity="0.7"/>
<rect x="42.51" y="76.49" width="1.5" height="9.72" fill="#2962ff"/>
<rect x="44.87" y="58.00" width="1" height="23.00" fill="#2962ff" fill-opacity="0.7"/>
<rect x="44.62" y="59.42" width="1.5" height="19.48" fill="#2962ff"/>
<rect x="46.98" y="50.00" width="1" height="10.00" fill="#2962ff" fill-opacity="0.7"/>
<rect x="46.73" y="51.86" width="1.5" height="6.78" fill="#2962ff"/>
<rect x="49.08" y="48.70" width="1" height="8.53" fill="#2962ff" fill-opacity="0.7"/>
<rect x="48.83" y="49.66" width="1.5" height="6.14" fill="#2962ff"/>
<rect x="51.19" y="47.00" width="1" height="6.60" fill="#2962ff" fill-opacity="0.7"/>
<rect x="50.94" y="47.93" width="1.5" height="4.95" fill="#2962ff"/>
<rect x="53.29" y="45.40" width="1" height="16.60" fill="#f23645" fill-opacity="0.7"/>
<rect x="53.04" y="48.87" width="1.5" height="9.98" fill="#f23645"/>
<rect x="55.40" y="58.00" width="1" height="24.00" fill="#f23645" fill-opacity="0.7"/>
<rect x="55.15" y="60.37" width="1.5" height="17.67" fill="#f23645"/>
<rect x="57.51" y="60.00" width="1" height="41.00" fill="#f23645" fill-opacity="0.7"/>
<rect x="57.26" y="66.36" width="1.5" height="25.42" fill="#f23645"/>
<rect x="59.61" y="91.70" width="1" height="12.30" fill="#f23645" fill-opacity="0.7"/>
<rect x="59.36" y="94.11" width="1.5" height="8.57" fill="#f23645"/>
<rect x="61.72" y="95.40" width="1" height="21.60" fill="#2962ff" fill-opacity="0.7"/>
<rect x="61.47" y="100.71" width="1.5" height="14.70" fill="#2962ff"/>
<rect x="63.82" y="95.40" width="1" height="12.60" fill="#f23645" fill-opacity="0.7"/>
<rect x="63.57" y="97.08" width="1.5" height="8.38" fill="#f23645"/>
<rect x="65.93" y="99.00" width="1" height="12.70" fill="#f23645" fill-opacity="0.7"/>
<rect x="65.68" y="100.02" width="1.5" height="9.80" fill="#f23645"/>
<rect x="68.04" y="86.30" width="1" height="21.70" fill="#2962ff" fill-opacity="0.7"/>
<rect x="67.79" y="87.56" width="1.5" height="16.46" fill="#2962ff"/>
<rect x="70.14" y="100.80" width="1" height="9.20" fill="#f23645" fill-opacity="0.7"/>
<rect x="69.89" y="102.67" width="1.5" height="5.82" fill="#f23645"/>
<rect x="72.25" y="104.40" width="1" height="9.10" fill="#f23645" fill-opacity="0.7"/>
<rect x="72.00" y="106.45" width="1.5" height="6.03" fill="#f23645"/>
<rect x="74.35" y="102.60" width="1" height="12.70" fill="#f23645" fill-opacity="0.7"/>
<rect x="74.10" y="105.00" width="1.5" height="8.15" fill="#f23645"/>
<rect x="76.46" y="108.00" width="1" height="5.50" fill="#f23645" fill-opacity="0.7"/>
<rect x="76.21" y="108.91" width="1.5" height="3.81" fill="#f23645"/>
<rect x="78.57" y="110.00" width="1" height="10.80" fill="#f23645" fill-opacity="0.7"/>
<rect x="78.32" y="112.35" width="1.5" height="5.87" fill="#f23645"/>
<rect x="80.67" y="97.00" width="1" height="43.00" fill="#2962ff" fill-opacity="0.7"/>
<rect x="80.42" y="103.23" width="1.5" height="28.91" fill="#2962ff"/>
<rect x="82.78" y="72.70" width="1" height="26.30" fill="#2962ff" fill-opacity="0.7"/>
<rect x="82.53" y="74.33" width="1.5" height="19.66" fill="#2962ff"/>
<rect x="84.88" y="77.00" width="1" height="11.00" fill="#f23645" fill-opacity="0.7"/>
<rect x="84.63" y="78.97" width="1.5" height="6.29" fill="#f23645"/>
<rect x="86.99" y="82.70" width="1" height="10.90" fill="#f23645" fill-opacity="0.7"/>
<rect x="86.74" y="85.04" width="1.5" height="7.40" fill="#f23645"/>
<rect x="89.10" y="71.80" width="1" height="32.60" fill="#f23645" fill-opacity="0.7"/>
<rect x="88.85" y="75.95" width="1.5" height="22.47" fill="#f23645"/>
<rect x="91.20" y="86.30" width="1" height="14.50" fill="#f23645" fill-opacity="0.7"/>
<rect x="90.95" y="87.09" width="1.5" height="11.65" fill="#f23645"/>
<rect x="93.31" y="91.70" width="1" height="16.30" fill="#f23645" fill-opacity="0.7"/>
<rect x="93.06" y="93.06" width="1.5" height="13.74" fill="#f23645"/>
<rect x="95.41" y="77.00" width="1" height="22.00" fill="#2962ff" fill-opacity="0.7"/>
<rect x="95.16" y="78.36" width="1.5" height="16.16" fill="#2962ff"/>
<rect x="97.52" y="81.80" width="1" height="6.20" fill="#f23645" fill-opacity="0.7"/>
<rect x="97.27" y="82.27" width="1.5" height="5.11" fill="#f23645"/>
<rect x="99.63" y="82.70" width="1" height="7.30" fill="#2962ff" fill-opacity="0.7"/>
<rect x="99.38" y="83.64" width="1.5" height="4.73" fill="#2962ff"/>
<rect x="101.73" y="79.00" width="1" height="16.40" fill="#2962ff" fill-opacity="0.7"/>
<rect x="101.48" y="80.08" width="1.5" height="13.02" fill="#2962ff"/>
<rect x="103.84" y="53.60" width="1" height="32.70" fill="#2962ff" fill-opacity="0.7"/>
<rect x="103.59" y="58.83" width="1.5" height="20.06" fill="#2962ff"/>
<rect x="105.94" y="51.80" width="1" height="12.70" fill="#f23645" fill-opacity="0.7"/>
<rect x="105.69" y="54.52" width="1.5" height="7.15" fill="#f23645"/>
<rect x="108.05" y="57.00" width="1" height="6.60" fill="#2962ff" fill-opacity="0.7"/>
<rect x="107.80" y="57.70" width="1.5" height="5.02" fill="#2962ff"/>
<rect x="110.16" y="57.00" width="1" height="6.60" fill="#2962ff" fill-opacity="0.7"/>
<rect x="109.91" y="57.80" width="1.5" height="4.30" fill="#2962ff"/>
<rect x="112.26" y="55.40" width="1" height="7.30" fill="#2962ff" fill-opacity="0.7"/>
<rect x="112.01" y="57.16" width="1.5" height="4.95" fill="#2962ff"/>
<rect x="114.37" y="45.60" width="1" height="12.40" fill="#2962ff" fill-opacity="0.7"/>
<rect x="114.12" y="46.66" width="1.5" height="10.15" fill="#2962ff"/>
<rect x="116.47" y="24.00" width="1" height="25.00" fill="#2962ff" fill-opacity="0.7"/>
<rect x="116.22" y="26.42" width="1.5" height="18.91" fill="#2962ff"/>
<rect x="118.58" y="10.00" width="1" height="16.00" fill="#2962ff" fill-opacity="0.7"/>
<rect x="118.33" y="12.69" width="1.5" height="11.67" fill="#2962ff"/>
<rect x="120.69" y="-4.23" width="1" height="23.59" fill="#2962ff" fill-opacity="0.7"/>
<rect x="120.44" y="-3.03" width="1.5" height="19.24" fill="#2962ff"/>
<rect x="122.79" y="-20.00" width="1" height="32.00" fill="#2962ff" fill-opacity="0.7"/>
<rect x="122.54" y="-16.04" width="1.5" height="22.81" fill="#2962ff"/>
<rect x="124.90" y="-30.00" width="1" height="30.00" fill="#f23645" fill-opacity="0.7"/>
<rect x="124.65" y="-22.78" width="1.5" height="17.14" fill="#f23645"/>
<rect x="127.00" y="-30.00" width="1" height="30.00" fill="#2962ff" fill-opacity="0.7"/>
<rect x="126.75" y="-25.41" width="1.5" height="20.20" fill="#2962ff"/>
<rect x="129.11" y="-30.00" width="1" height="30.00" fill="#2962ff" fill-opacity="0.7"/>
<rect x="128.86" y="-24.44" width="1.5" height="22.62" fill="#2962ff"/>
<rect x="131.22" y="-30.00" width="1" height="30.00" fill="#f23645" fill-opacity="0.7"/>
<rect x="130.97" y="-23.10" width="1.5" height="16.92" fill="#f23645"/>
<rect x="133.32" y="-30.00" width="1" height="30.00" fill="#f23645" fill-opacity="0.7"/>
<rect x="133.07" y="-23.25" width="1.5" height="16.97" fill="#f23645"/>
<rect x="135.43" y="-30.00" width="1" height="30.00" fill="#2962ff" fill-opacity="0.7"/>
<rect x="135.18" y="-26.15" width="1.5" height="22.25" fill="#2962ff"/>
<rect x="137.53" y="15.00" width="1" height="24.50" fill="#f23645" fill-opacity="0.7"/>
<rect x="137.28" y="16.73" width="1.5" height="18.43" fill="#f23645"/>
<rect x="139.64" y="15.00" width="1" height="28.02" fill="#2962ff" fill-opacity="0.7"/>
<rect x="139.39" y="16.75" width="1.5" height="24.49" fill="#2962ff"/>
<rect x="141.75" y="15.00" width="1" height="30.80" fill="#2962ff" fill-opacity="0.7"/>
<rect x="141.50" y="17.83" width="1.5" height="25.43" fill="#2962ff"/>
<rect x="143.85" y="10.00" width="1" height="59.60" fill="#f23645" fill-opacity="0.7"/>
<rect x="143.60" y="17.03" width="1.5" height="48.96" fill="#f23645"/>
<rect x="145.96" y="36.30" width="1" height="6.30" fill="#f23645" fill-opacity="0.7"/>
<rect x="145.71" y="36.62" width="1.5" height="5.48" fill="#f23645"/>
<rect x="148.06" y="41.00" width="1" height="8.00" fill="#2962ff" fill-opacity="0.7"/>
<rect x="147.81" y="41.56" width="1.5" height="6.46" fill="#2962ff"/>
<rect x="150.17" y="39.50" width="1" height="11.10" fill="#f23645" fill-opacity="0.7"/>
<rect x="149.92" y="40.11" width="1.5" height="7.99" fill="#f23645"/>
<rect x="152.28" y="44.00" width="1" height="9.70" fill="#f23645" fill-opacity="0.7"/>
<rect x="152.03" y="45.68" width="1.5" height="7.25" fill="#f23645"/>
<rect x="154.38" y="49.00" width="1" height="19.00" fill="#f23645" fill-opacity="0.7"/>
<rect x="154.13" y="50.91" width="1.5" height="14.82" fill="#f23645"/>
<rect x="156.49" y="55.00" width="1" height="24.00" fill="#2962ff" fill-opacity="0.7"/>
<rect x="156.24" y="57.95" width="1.5" height="19.26" fill="#2962ff"/>
<rect x="158.59" y="66.40" width="1" height="14.30" fill="#2962ff" fill-opacity="0.7"/>
<rect x="158.34" y="69.54" width="1.5" height="7.60" fill="#2962ff"/>
<rect x="160.70" y="68.00" width="1" height="14.30" fill="#f23645" fill-opacity="0.7"/>
<rect x="160.45" y="70.05" width="1.5" height="10.15" fill="#f23645"/>
<rect x="162.81" y="74.40" width="1" height="12.60" fill="#f23645" fill-opacity="0.7"/>
<rect x="162.56" y="75.25" width="1.5" height="10.87" fill="#f23645"/>
<rect x="164.91" y="61.70" width="1" height="23.80" fill="#2962ff" fill-opacity="0.7"/>
<rect x="164.66" y="64.52" width="1.5" height="18.53" fill="#2962ff"/>
<rect x="167.02" y="42.60" width="1" height="27.00" fill="#2962ff" fill-opacity="0.7"/>
<rect x="166.77" y="48.43" width="1.5" height="18.95" fill="#2962ff"/>
<rect x="169.12" y="31.50" width="1" height="22.20" fill="#2962ff" fill-opacity="0.7"/>
<rect x="168.87" y="32.71" width="1.5" height="15.66" fill="#2962ff"/>
<rect x="171.23" y="26.80" width="1" height="14.20" fill="#2962ff" fill-opacity="0.7"/>
<rect x="170.98" y="29.01" width="1.5" height="10.86" fill="#2962ff"/>
<rect x="173.34" y="15.00" width="1" height="25.00" fill="#2962ff" fill-opacity="0.7"/>
<rect x="173.09" y="18.97" width="1.5" height="19.65" fill="#2962ff"/>
<rect x="175.44" y="15.00" width="1" height="18.00" fill="#2962ff" fill-opacity="0.7"/>
<rect x="175.19" y="17.80" width="1.5" height="10.78" fill="#2962ff"/>
<rect x="177.55" y="23.80" width="1" height="12.70" fill="#f23645" fill-opacity="0.7"/>
<rect x="177.30" y="26.63" width="1.5" height="7.47" fill="#f23645"/>
<rect x="179.65" y="15.00" width="1" height="19.70" fill="#2962ff" fill-opacity="0.7"/>
<rect x="179.40" y="17.01" width="1.5" height="15.26" fill="#2962ff"/>
<rect x="181.76" y="27.40" width="1" height="10.90" fill="#f23645" fill-opacity="0.7"/>
<rect x="181.51" y="28.31" width="1.5" height="7.76" fill="#f23645"/>
<rect x="183.87" y="10.00" width="1" height="19.00" fill="#2962ff" fill-opacity="0.7"/>
<rect x="183.62" y="12.97" width="1.5" height="12.12" fill="#2962ff"/>
<rect x="185.97" y="10.00" width="1" height="15.60" fill="#f23645" fill-opacity="0.7"/>
<rect x="185.72" y="11.81" width="1.5" height="12.32" fill="#f23645"/>
<rect x="188.08" y="15.00" width="1" height="12.40" fill="#f23645" fill-opacity="0.7"/>
<rect x="187.83" y="17.63" width="1.5" height="6.70" fill="#f23645"/>
<rect x="190.18" y="24.00" width="1" height="34.00" fill="#f23645" fill-opacity="0.7"/>
<rect x="189.93" y="31.50" width="1.5" height="19.32" fill="#f23645"/>
<rect x="192.29" y="50.00" width="1" height="30.00" fill="#f23645" fill-opacity="0.7"/>
<rect x="192.04" y="56.41" width="1.5" height="17.65" fill="#f23645"/>
<rect x="194.40" y="67.00" width="1" height="13.00" fill="#f23645" fill-opacity="0.7"/>
<rect x="194.15" y="68.24" width="1.5" height="9.76" fill="#f23645"/>
<rect x="196.50" y="74.60" width="1" height="9.10" fill="#2962ff" fill-opacity="0.7"/>
<rect x="196.25" y="75.70" width="1.5" height="7.49" fill="#2962ff"/>
<rect x="198.61" y="69.00" width="1" height="13.00" fill="#2962ff" fill-opacity="0.7"/>
<rect x="198.36" y="69.72" width="1.5" height="10.90" fill="#2962ff"/>
<rect x="200.71" y="67.00" width="1" height="9.40" fill="#2962ff" fill-opacity="0.7"/>
<rect x="200.46" y="67.96" width="1.5" height="6.67" fill="#2962ff"/>
<rect x="202.82" y="66.50" width="1" height="8.10" fill="#2962ff" fill-opacity="0.7"/>
<rect x="202.57" y="68.45" width="1.5" height="5.02" fill="#2962ff"/>
<rect x="204.93" y="67.00" width="1" height="9.40" fill="#f23645" fill-opacity="0.7"/>
<rect x="204.68" y="69.23" width="1.5" height="4.84" fill="#f23645"/>
<rect x="207.03" y="70.00" width="1" height="64.50" fill="#f23645" fill-opacity="0.7"/>
<rect x="206.78" y="85.54" width="1.5" height="41.03" fill="#f23645"/>
<rect x="209.14" y="111.70" width="1" height="20.30" fill="#f23645" fill-opacity="0.7"/>
<rect x="208.89" y="113.61" width="1.5" height="16.45" fill="#f23645"/>
<rect x="211.24" y="131.80" width="1" height="19.90" fill="#f23645" fill-opacity="0.7"/>
<rect x="210.99" y="133.58" width="1.5" height="16.31" fill="#f23645"/>
<rect x="213.35" y="125.40" width="1" height="10.90" fill="#2962ff" fill-opacity="0.7"/>
<rect x="213.10" y="127.31" width="1.5" height="6.49" fill="#2962ff"/>
<rect x="215.46" y="120.00" width="1" height="11.00" fill="#2962ff" fill-opacity="0.7"/>
<rect x="215.21" y="122.40" width="1.5" height="7.00" fill="#2962ff"/>
<rect x="217.56" y="118.00" width="1" height="22.00" fill="#2962ff" fill-opacity="0.7"/>
<rect x="217.31" y="121.97" width="1.5" height="13.41" fill="#2962ff"/>
<rect x="219.67" y="108.00" width="1" height="20.00" fill="#2962ff" fill-opacity="0.7"/>
<rect x="219.42" y="109.34" width="1.5" height="15.02" fill="#2962ff"/>
<rect x="221.77" y="102.60" width="1" height="12.70" fill="#2962ff" fill-opacity="0.7"/>
<rect x="221.52" y="105.55" width="1.5" height="7.13" fill="#2962ff"/>
<rect x="223.88" y="91.70" width="1" height="18.30" fill="#2962ff" fill-opacity="0.7"/>
<rect x="223.63" y="95.36" width="1.5" height="11.97" fill="#2962ff"/>
<rect x="225.99" y="83.00" width="1" height="9.00" fill="#2962ff" fill-opacity="0.7"/>
<rect x="225.74" y="83.77" width="1.5" height="6.36" fill="#2962ff"/>
<rect x="228.09" y="84.50" width="1" height="18.10" fill="#f23645" fill-opacity="0.7"/>
<rect x="227.84" y="86.61" width="1.5" height="12.19" fill="#f23645"/>
<rect x="230.20" y="68.60" width="1" height="21.40" fill="#2962ff" fill-opacity="0.7"/>
<rect x="229.95" y="73.83" width="1.5" height="13.41" fill="#2962ff"/>
<rect x="232.30" y="66.30" width="1" height="21.70" fill="#f23645" fill-opacity="0.7"/>
<rect x="232.05" y="69.13" width="1.5" height="13.68" fill="#f23645"/>
<rect x="234.41" y="83.30" width="1" height="9.10" fill="#f23645" fill-opacity="0.7"/>
<rect x="234.16" y="85.07" width="1.5" height="6.56" fill="#f23645"/>
<rect x="236.52" y="85.60" width="1" height="7.90" fill="#f23645" fill-opacity="0.7"/>
<rect x="236.27" y="86.20" width="1.5" height="6.67" fill="#f23645"/>
<rect x="238.62" y="86.70" width="1" height="6.80" fill="#2962ff" fill-opacity="0.7"/>
<rect x="238.37" y="88.27" width="1.5" height="3.79" fill="#2962ff"/>
<rect x="240.73" y="60.70" width="1" height="24.90" fill="#2962ff" fill-opacity="0.7"/>
<rect x="240.48" y="62.67" width="1.5" height="17.57" fill="#2962ff"/>
<rect x="242.83" y="65.20" width="1" height="17.00" fill="#f23645" fill-opacity="0.7"/>
<rect x="242.58" y="69.38" width="1.5" height="9.73" fill="#f23645"/>
<rect x="244.94" y="61.80" width="1" height="34.00" fill="#2962ff" fill-opacity="0.7"/>
<rect x="244.69" y="65.88" width="1.5" height="24.49" fill="#2962ff"/>
<rect x="247.05" y="64.00" width="1" height="19.30" fill="#f23645" fill-opacity="0.7"/>
<rect x="246.80" y="65.47" width="1.5" height="16.81" fill="#f23645"/>
<rect x="249.15" y="72.32" width="1" height="12.18" fill="#2962ff" fill-opacity="0.7"/>
<rect x="248.90" y="75.29" width="1.5" height="7.01" fill="#2962ff"/>
<rect x="251.26" y="63.00" width="1" height="22.60" fill="#2962ff" fill-opacity="0.7"/>
<rect x="251.01" y="66.51" width="1.5" height="13.74" fill="#2962ff"/>
<rect x="253.36" y="57.30" width="1" height="13.60" fill="#f23645" fill-opacity="0.7"/>
<rect x="253.11" y="59.16" width="1.5" height="8.69" fill="#f23645"/>
<rect x="255.47" y="56.00" width="1" height="37.50" fill="#f23645" fill-opacity="0.7"/>
<rect x="255.22" y="64.07" width="1.5" height="25.97" fill="#f23645"/>
<rect x="257.58" y="69.70" width="1" height="22.70" fill="#f23645" fill-opacity="0.7"/>
<rect x="257.33" y="71.98" width="1.5" height="17.96" fill="#f23645"/>
<rect x="259.68" y="75.40" width="1" height="17.00" fill="#2962ff" fill-opacity="0.7"/>
<rect x="259.43" y="77.07" width="1.5" height="12.49" fill="#2962ff"/>
<rect x="261.79" y="77.70" width="1" height="11.30" fill="#2962ff" fill-opacity="0.7"/>
<rect x="261.54" y="78.85" width="1.5" height="8.64" fill="#2962ff"/>
<rect x="263.89" y="75.40" width="1" height="13.60" fill="#f23645" fill-opacity="0.7"/>
<rect x="263.64" y="76.44" width="1.5" height="9.41" fill="#f23645"/>
<rect x="266.00" y="68.00" width="1" height="14.70" fill="#2962ff" fill-opacity="0.7"/>
<rect x="265.75" y="69.78" width="1.5" height="10.84" fill="#2962ff"/>
<rect x="268.11" y="64.50" width="1" height="16.50" fill="#2962ff" fill-opacity="0.7"/>
<rect x="267.86" y="67.25" width="1.5" height="9.94" fill="#2962ff"/>
<rect x="270.21" y="64.50" width="1" height="58.10" fill="#f23645" fill-opacity="0.7"/>
<rect x="269.96" y="72.29" width="1.5" height="36.74" fill="#f23645"/>
<rect x="272.32" y="90.00" width="1" height="9.00" fill="#2962ff" fill-opacity="0.7"/>
<rect x="272.07" y="91.35" width="1.5" height="6.24" fill="#2962ff"/>
<rect x="274.42" y="88.00" width="1" height="9.00" fill="#f23645" fill-opacity="0.7"/>
<rect x="274.17" y="89.39" width="1.5" height="7.12" fill="#f23645"/>
<rect x="276.53" y="86.00" width="1" height="11.00" fill="#2962ff" fill-opacity="0.7"/>
<rect x="276.28" y="87.52" width="1.5" height="8.53" fill="#2962ff"/>
<rect x="278.64" y="73.60" width="1" height="21.80" fill="#2962ff" fill-opacity="0.7"/>
<rect x="278.39" y="74.71" width="1.5" height="16.12" fill="#2962ff"/>
<rect x="280.74" y="77.00" width="1" height="9.30" fill="#2962ff" fill-opacity="0.7"/>
<rect x="280.49" y="77.79" width="1.5" height="7.17" fill="#2962ff"/>
<rect x="282.85" y="62.70" width="1" height="23.60" fill="#2962ff" fill-opacity="0.7"/>
<rect x="282.60" y="67.30" width="1.5" height="15.19" fill="#2962ff"/>
<rect x="284.95" y="75.40" width="1" height="4.60" fill="#2962ff" fill-opacity="0.7"/>
<rect x="284.70" y="75.93" width="1.5" height="3.36" fill="#2962ff"/>
<rect x="287.06" y="91.70" width="1" height="12.70" fill="#f23645" fill-opacity="0.7"/>
<rect x="286.81" y="93.75" width="1.5" height="8.03" fill="#f23645"/>
<rect x="289.17" y="84.50" width="1" height="14.50" fill="#2962ff" fill-opacity="0.7"/>
<rect x="288.92" y="85.53" width="1.5" height="11.12" fill="#2962ff"/>
<rect x="291.27" y="93.60" width="1" height="9.00" fill="#f23645" fill-opacity="0.7"/>
<rect x="291.02" y="94.50" width="1.5" height="7.15" fill="#f23645"/>
<rect x="293.38" y="93.60" width="1" height="54.40" fill="#f23645" fill-opacity="0.7"/>
<rect x="293.13" y="104.72" width="1.5" height="35.03" fill="#f23645"/>
<rect x="295.48" y="91.70" width="1" height="30.90" fill="#2962ff" fill-opacity="0.7"/>
<rect x="295.23" y="96.72" width="1.5" height="19.64" fill="#2962ff"/>
<rect x="297.59" y="99.00" width="1" height="5.40" fill="#f23645" fill-opacity="0.7"/>
<rect x="297.34" y="100.26" width="1.5" height="3.40" fill="#f23645"/>
<rect x="299.70" y="97.00" width="1" height="13.00" fill="#f23645" fill-opacity="0.7"/>
<rect x="299.45" y="99.24" width="1.5" height="8.79" fill="#f23645"/>
<rect x="301.80" y="102.60" width="1" height="9.10" fill="#f23645" fill-opacity="0.7"/>
<rect x="301.55" y="103.99" width="1.5" height="6.00" fill="#f23645"/>
<rect x="303.91" y="101.00" width="1" height="36.00" fill="#f23645" fill-opacity="0.7"/>
<rect x="303.66" y="106.06" width="1.5" height="25.30" fill="#f23645"/>
<rect x="306.01" y="128.00" width="1" height="16.50" fill="#2962ff" fill-opacity="0.7"/>
<rect x="305.76" y="130.40" width="1.5" height="10.17" fill="#2962ff"/>
<rect x="308.12" y="133.60" width="1" height="9.10" fill="#2962ff" fill-opacity="0.7"/>
<rect x="307.87" y="135.33" width="1.5" height="5.32" fill="#2962ff"/>
<rect x="310.23" y="124.50" width="1" height="21.80" fill="#f23645" fill-opacity="0.7"/>
<rect x="309.98" y="129.70" width="1.5" height="14.38" fill="#f23645"/>
<rect x="312.33" y="139.00" width="1" height="12.70" fill="#f23645" fill-opacity="0.7"/>
<rect x="312.08" y="141.06" width="1.5" height="7.61" fill="#f23645"/>
<rect x="314.44" y="150.00" width="1" height="27.00" fill="#f23645" fill-opacity="0.7"/>
<rect x="314.19" y="155.89" width="1.5" height="19.02" fill="#f23645"/>
<rect x="316.54" y="159.00" width="1" height="20.00" fill="#f23645" fill-opacity="0.7"/>
<rect x="316.29" y="160.49" width="1.5" height="15.75" fill="#f23645"/>
<rect x="318.65" y="160.80" width="1" height="18.20" fill="#2962ff" fill-opacity="0.7"/>
<rect x="318.40" y="161.97" width="1.5" height="15.24" fill="#2962ff"/>
<rect x="320.76" y="162.60" width="1" height="21.90" fill="#f23645" fill-opacity="0.7"/>
<rect x="320.51" y="164.02" width="1.5" height="16.46" fill="#f23645"/>
<rect x="322.86" y="164.50" width="1" height="23.50" fill="#f23645" fill-opacity="0.7"/>
<rect x="322.61" y="169.36" width="1.5" height="13.25" fill="#f23645"/>
<rect x="324.97" y="155.40" width="1" height="16.40" fill="#2962ff" fill-opacity="0.7"/>
<rect x="324.72" y="156.73" width="1.5" height="11.90" fill="#2962ff"/>
<rect x="327.07" y="150.00" width="1" height="11.00" fill="#2962ff" fill-opacity="0.7"/>
<rect x="326.82" y="152.00" width="1.5" height="8.13" fill="#2962ff"/>
<rect x="329.18" y="150.00" width="1" height="31.00" fill="#f23645" fill-opacity="0.7"/>
<rect x="328.93" y="157.02" width="1.5" height="16.43" fill="#f23645"/>
<rect x="331.29" y="168.00" width="1" height="16.50" fill="#f23645" fill-opacity="0.7"/>
<rect x="331.04" y="169.55" width="1.5" height="10.98" fill="#f23645"/>
<rect x="333.39" y="177.00" width="1" height="7.50" fill="#2962ff" fill-opacity="0.7"/>
<rect x="333.14" y="177.97" width="1.5" height="5.42" fill="#2962ff"/>
<rect x="335.50" y="177.00" width="1" height="56.40" fill="#f23645" fill-opacity="0.7"/>
<rect x="335.25" y="190.99" width="1.5" height="30.20" fill="#f23645"/>
<rect x="337.60" y="213.50" width="1" height="5.50" fill="#2962ff" fill-opacity="0.7"/>
<rect x="337.35" y="213.95" width="1.5" height="4.30" fill="#2962ff"/>
<rect x="339.71" y="208.00" width="1" height="9.00" fill="#2962ff" fill-opacity="0.7"/>
<rect x="339.46" y="209.38" width="1.5" height="6.56" fill="#2962ff"/>
<rect x="341.82" y="204.40" width="1" height="10.90" fill="#2962ff" fill-opacity="0.7"/>
<rect x="341.57" y="205.37" width="1.5" height="8.69" fill="#2962ff"/>
<rect x="343.92" y="197.00" width="1" height="14.70" fill="#2962ff" fill-opacity="0.7"/>
<rect x="343.67" y="199.86" width="1.5" height="11.05" fill="#2962ff"/>
<rect x="346.03" y="182.70" width="1" height="27.30" fill="#2962ff" fill-opacity="0.7"/>
<rect x="345.78" y="187.09" width="1.5" height="19.14" fill="#2962ff"/>
<rect x="348.13" y="164.50" width="1" height="27.20" fill="#2962ff" fill-opacity="0.7"/>
<rect x="347.88" y="165.96" width="1.5" height="22.58" fill="#2962ff"/>
<rect x="350.24" y="166.30" width="1" height="18.20" fill="#2962ff" fill-opacity="0.7"/>
<rect x="349.99" y="169.48" width="1.5" height="12.24" fill="#2962ff"/>
<rect x="352.35" y="171.80" width="1" height="5.20" fill="#2962ff" fill-opacity="0.7"/>
<rect x="352.10" y="172.13" width="1.5" height="3.59" fill="#2962ff"/>
<rect x="354.45" y="168.00" width="1" height="22.00" fill="#f23645" fill-opacity="0.7"/>
<rect x="354.20" y="172.57" width="1.5" height="12.06" fill="#f23645"/>
<rect x="356.56" y="184.50" width="1" height="19.90" fill="#f23645" fill-opacity="0.7"/>
<rect x="356.31" y="185.91" width="1.5" height="16.44" fill="#f23645"/>
<rect x="358.66" y="202.60" width="1" height="10.90" fill="#f23645" fill-opacity="0.7"/>
<rect x="358.41" y="203.23" width="1.5" height="8.03" fill="#f23645"/>
<rect x="360.77" y="208.00" width="1" height="11.00" fill="#f23645" fill-opacity="0.7"/>
<rect x="360.52" y="209.14" width="1.5" height="9.02" fill="#f23645"/>
<rect x="362.88" y="204.40" width="1" height="10.90" fill="#f23645" fill-opacity="0.7"/>
<rect x="362.63" y="205.87" width="1.5" height="6.90" fill="#f23645"/>
<rect x="364.98" y="195.40" width="1" height="29.00" fill="#f23645" fill-opacity="0.7"/>
<rect x="364.73" y="201.60" width="1.5" height="19.85" fill="#f23645"/>
<rect x="367.09" y="197.00" width="1" height="31.00" fill="#f23645" fill-opacity="0.7"/>
<rect x="366.84" y="199.48" width="1.5" height="21.28" fill="#f23645"/>
<rect x="369.19" y="213.50" width="1" height="16.50" fill="#f23645" fill-opacity="0.7"/>
<rect x="368.94" y="216.21" width="1.5" height="10.66" fill="#f23645"/>
<rect x="371.30" y="176.50" width="1" height="48.50" fill="#2962ff" fill-opacity="0.7"/>
<rect x="371.05" y="179.79" width="1.5" height="42.22" fill="#2962ff"/>
<rect x="373.41" y="180.80" width="1" height="7.20" fill="#2962ff" fill-opacity="0.7"/>
<rect x="373.16" y="182.15" width="1.5" height="4.88" fill="#2962ff"/>
<rect x="375.51" y="178.00" width="1" height="9.60" fill="#2962ff" fill-opacity="0.7"/>
<rect x="375.26" y="178.62" width="1.5" height="6.70" fill="#2962ff"/>
<rect x="377.62" y="171.70" width="1" height="9.60" fill="#2962ff" fill-opacity="0.7"/>
<rect x="377.37" y="173.40" width="1.5" height="5.88" fill="#2962ff"/>
<rect x="379.72" y="152.70" width="1" height="23.80" fill="#f23645" fill-opacity="0.7"/>
<rect x="379.47" y="154.29" width="1.5" height="16.95" fill="#f23645"/>
<rect x="381.83" y="152.70" width="1" height="22.30" fill="#2962ff" fill-opacity="0.7"/>
<rect x="381.58" y="154.11" width="1.5" height="15.92" fill="#2962ff"/>
<rect x="383.94" y="156.00" width="1" height="23.70" fill="#2962ff" fill-opacity="0.7"/>
<rect x="383.69" y="159.34" width="1.5" height="17.57" fill="#2962ff"/>
<rect x="386.04" y="151.00" width="1" height="11.00" fill="#2962ff" fill-opacity="0.7"/>
<rect x="385.79" y="152.77" width="1.5" height="6.64" fill="#2962ff"/>
<rect x="388.15" y="143.00" width="1" height="13.00" fill="#2962ff" fill-opacity="0.7"/>
<rect x="387.90" y="144.35" width="1.5" height="10.67" fill="#2962ff"/>
<rect x="390.25" y="129.00" width="1" height="20.00" fill="#f23645" fill-opacity="0.7"/>
<rect x="390.00" y="132.11" width="1.5" height="14.94" fill="#f23645"/>
<rect x="392.36" y="138.00" width="1" height="7.00" fill="#2962ff" fill-opacity="0.7"/>
<rect x="392.11" y="138.50" width="1.5" height="5.92" fill="#2962ff"/>
<rect x="394.47" y="138.00" width="1" height="14.60" fill="#2962ff" fill-opacity="0.7"/>
<rect x="394.22" y="138.88" width="1.5" height="12.40" fill="#2962ff"/>
<rect x="396.57" y="132.60" width="1" height="10.90" fill="#2962ff" fill-opacity="0.7"/>
<rect x="396.32" y="133.83" width="1.5" height="8.46" fill="#2962ff"/>
<rect x="398.68" y="116.30" width="1" height="23.70" fill="#2962ff" fill-opacity="0.7"/>
<rect x="398.43" y="121.09" width="1.5" height="16.36" fill="#2962ff"/>
<rect x="400.78" y="111.00" width="1" height="10.70" fill="#2962ff" fill-opacity="0.7"/>
<rect x="400.53" y="112.61" width="1.5" height="8.18" fill="#2962ff"/>
<rect x="402.89" y="101.80" width="1" height="14.50" fill="#2962ff" fill-opacity="0.7"/>
<rect x="402.64" y="103.53" width="1.5" height="11.99" fill="#2962ff"/>
<rect x="405.00" y="87.30" width="1" height="29.00" fill="#f23645" fill-opacity="0.7"/>
<rect x="404.75" y="90.20" width="1.5" height="24.56" fill="#f23645"/>
<rect x="407.10" y="105.40" width="1" height="9.10" fill="#f23645" fill-opacity="0.7"/>
<rect x="406.85" y="107.19" width="1.5" height="5.85" fill="#f23645"/>
<rect x="409.21" y="107.00" width="1" height="27.40" fill="#f23645" fill-opacity="0.7"/>
<rect x="408.96" y="109.41" width="1.5" height="21.02" fill="#f23645"/>
<rect x="411.31" y="130.80" width="1" height="7.20" fill="#f23645" fill-opacity="0.7"/>
<rect x="411.06" y="132.51" width="1.5" height="4.98" fill="#f23645"/>
<rect x="413.42" y="132.60" width="1" height="14.40" fill="#f23645" fill-opacity="0.7"/>
<rect x="413.17" y="135.68" width="1.5" height="9.36" fill="#f23645"/>
<rect x="415.53" y="130.80" width="1" height="9.20" fill="#2962ff" fill-opacity="0.7"/>
<rect x="415.28" y="132.17" width="1.5" height="5.83" fill="#2962ff"/>
<rect x="417.63" y="129.00" width="1" height="7.30" fill="#f23645" fill-opacity="0.7"/>
<rect x="417.38" y="129.94" width="1.5" height="5.26" fill="#f23645"/>
<rect x="419.74" y="132.60" width="1" height="14.40" fill="#f23645" fill-opacity="0.7"/>
<rect x="419.49" y="135.30" width="1.5" height="8.15" fill="#f23645"/>
<rect x="421.84" y="140.00" width="1" height="12.70" fill="#f23645" fill-opacity="0.7"/>
<rect x="421.59" y="141.51" width="1.5" height="8.45" fill="#f23645"/>
<rect x="423.95" y="143.50" width="1" height="12.50" fill="#f23645" fill-opacity="0.7"/>
<rect x="423.70" y="145.89" width="1.5" height="7.89" fill="#f23645"/>
<rect x="426.06" y="147.00" width="1" height="11.00" fill="#2962ff" fill-opacity="0.7"/>
<rect x="425.81" y="148.44" width="1.5" height="8.25" fill="#2962ff"/>
<rect x="428.16" y="145.40" width="1" height="16.30" fill="#f23645" fill-opacity="0.7"/>
<rect x="427.91" y="146.39" width="1.5" height="14.07" fill="#f23645"/>
<rect x="430.27" y="158.00" width="1" height="9.00" fill="#f23645" fill-opacity="0.7"/>
<rect x="430.02" y="158.58" width="1.5" height="6.64" fill="#f23645"/>
<rect x="432.37" y="160.00" width="1" height="12.60" fill="#f23645" fill-opacity="0.7"/>
<rect x="432.12" y="161.27" width="1.5" height="10.28" fill="#f23645"/>
<rect x="434.48" y="167.00" width="1" height="14.70" fill="#f23645" fill-opacity="0.7"/>
<rect x="434.23" y="167.98" width="1.5" height="10.51" fill="#f23645"/>
<rect x="436.59" y="174.40" width="1" height="10.90" fill="#f23645" fill-opacity="0.7"/>
<rect x="436.34" y="176.84" width="1.5" height="6.45" fill="#f23645"/>
<rect x="438.69" y="178.00" width="1" height="11.00" fill="#f23645" fill-opacity="0.7"/>
<rect x="438.44" y="179.17" width="1.5" height="8.75" fill="#f23645"/>
<rect x="440.80" y="181.70" width="1" height="7.30" fill="#2962ff" fill-opacity="0.7"/>
<rect x="440.55" y="182.49" width="1.5" height="5.47" fill="#2962ff"/>
<rect x="442.90" y="180.00" width="1" height="5.30" fill="#2962ff" fill-opacity="0.7"/>
<rect x="442.65" y="180.43" width="1.5" height="4.13" fill="#2962ff"/>
<rect x="445.01" y="176.30" width="1" height="23.70" fill="#f23645" fill-opacity="0.7"/>
<rect x="444.76" y="178.73" width="1.5" height="15.52" fill="#f23645"/>
<rect x="447.12" y="180.00" width="1" height="20.00" fill="#2962ff" fill-opacity="0.7"/>
<rect x="446.87" y="184.89" width="1.5" height="11.92" fill="#2962ff"/>
<rect x="449.22" y="170.80" width="1" height="21.80" fill="#2962ff" fill-opacity="0.7"/>
<rect x="448.97" y="172.96" width="1.5" height="14.34" fill="#2962ff"/>
<rect x="451.33" y="176.00" width="1" height="11.00" fill="#f23645" fill-opacity="0.7"/>
<rect x="451.08" y="177.23" width="1.5" height="8.43" fill="#f23645"/>
<rect x="453.43" y="181.70" width="1" height="10.90" fill="#f23645" fill-opacity="0.7"/>
<rect x="453.18" y="182.25" width="1.5" height="8.98" fill="#f23645"/>
<rect x="455.54" y="183.50" width="1" height="10.90" fill="#f23645" fill-opacity="0.7"/>
<rect x="455.29" y="185.08" width="1.5" height="7.68" fill="#f23645"/>
<rect x="457.65" y="183.50" width="1" height="12.70" fill="#2962ff" fill-opacity="0.7"/>
<rect x="457.40" y="184.65" width="1.5" height="9.64" fill="#2962ff"/>
<rect x="459.75" y="174.40" width="1" height="14.60" fill="#2962ff" fill-opacity="0.7"/>
<rect x="459.50" y="175.14" width="1.5" height="12.35" fill="#2962ff"/>
<rect x="461.86" y="172.60" width="1" height="9.10" fill="#2962ff" fill-opacity="0.7"/>
<rect x="461.61" y="173.22" width="1.5" height="7.30" fill="#2962ff"/>
<rect x="463.96" y="172.60" width="1" height="7.40" fill="#f23645" fill-opacity="0.7"/>
<rect x="463.71" y="173.03" width="1.5" height="6.57" fill="#f23645"/>
<rect x="466.07" y="176.00" width="1" height="7.50" fill="#f23645" fill-opacity="0.7"/>
<rect x="465.82" y="176.83" width="1.5" height="5.94" fill="#f23645"/>
<rect x="468.18" y="176.30" width="1" height="5.40" fill="#2962ff" fill-opacity="0.7"/>
<rect x="467.93" y="177.20" width="1.5" height="3.66" fill="#2962ff"/>
<rect x="470.28" y="149.00" width="1" height="32.70" fill="#2962ff" fill-opacity="0.7"/>
<rect x="470.03" y="155.54" width="1.5" height="20.22" fill="#2962ff"/>
<rect x="472.39" y="160.00" width="1" height="10.80" fill="#2962ff" fill-opacity="0.7"/>
<rect x="472.14" y="162.09" width="1.5" height="6.27" fill="#2962ff"/>
<rect x="474.49" y="154.50" width="1" height="16.30" fill="#f23645" fill-opacity="0.7"/>
<rect x="474.24" y="156.58" width="1.5" height="12.34" fill="#f23645"/>
<rect x="476.60" y="160.00" width="1" height="10.80" fill="#2962ff" fill-opacity="0.7"/>
<rect x="476.35" y="162.67" width="1.5" height="7.27" fill="#2962ff"/>
<rect x="478.71" y="151.00" width="1" height="14.40" fill="#f23645" fill-opacity="0.7"/>
<rect x="478.46" y="153.81" width="1.5" height="9.02" fill="#f23645"/>
<rect x="480.81" y="160.00" width="1" height="12.60" fill="#2962ff" fill-opacity="0.7"/>
<rect x="480.56" y="160.74" width="1.5" height="9.12" fill="#2962ff"/>
<rect x="482.92" y="147.00" width="1" height="22.00" fill="#2962ff" fill-opacity="0.7"/>
<rect x="482.67" y="152.02" width="1.5" height="13.12" fill="#2962ff"/>
<rect x="485.02" y="154.50" width="1" height="12.50" fill="#2962ff" fill-opacity="0.7"/>
<rect x="484.77" y="156.96" width="1.5" height="7.38" fill="#2962ff"/>
<rect x="487.13" y="147.00" width="1" height="11.00" fill="#2962ff" fill-opacity="0.7"/>
<rect x="486.88" y="147.86" width="1.5" height="8.44" fill="#2962ff"/>
<rect x="489.24" y="143.60" width="1" height="10.90" fill="#2962ff" fill-opacity="0.7"/>
<rect x="488.99" y="145.24" width="1.5" height="6.89" fill="#2962ff"/>
<rect x="491.34" y="135.40" width="1" height="17.30" fill="#2962ff" fill-opacity="0.7"/>
<rect x="491.09" y="139.05" width="1.5" height="9.93" fill="#2962ff"/>
<rect x="493.45" y="136.30" width="1" height="10.90" fill="#f23645" fill-opacity="0.7"/>
<rect x="493.20" y="138.12" width="1.5" height="6.59" fill="#f23645"/>
<rect x="495.55" y="138.00" width="1" height="18.00" fill="#f23645" fill-opacity="0.7"/>
<rect x="495.30" y="141.36" width="1.5" height="11.25" fill="#f23645"/>
<rect x="497.66" y="136.30" width="1" height="27.20" fill="#2962ff" fill-opacity="0.7"/>
<rect x="497.41" y="138.91" width="1.5" height="23.06" fill="#2962ff"/>
<rect x="499.77" y="134.50" width="1" height="10.90" fill="#2962ff" fill-opacity="0.7"/>
<rect x="499.52" y="135.34" width="1.5" height="8.73" fill="#2962ff"/>
<rect x="501.87" y="134.50" width="1" height="14.50" fill="#f23645" fill-opacity="0.7"/>
<rect x="501.62" y="135.53" width="1.5" height="10.32" fill="#f23645"/>
<rect x="503.98" y="145.40" width="1" height="14.60" fill="#f23645" fill-opacity="0.7"/>
<rect x="503.73" y="147.76" width="1.5" height="9.68" fill="#f23645"/>
<rect x="506.08" y="151.00" width="1" height="12.50" fill="#f23645" fill-opacity="0.7"/>
<rect x="505.83" y="153.19" width="1.5" height="7.98" fill="#f23645"/>
<rect x="508.19" y="158.00" width="1" height="12.80" fill="#f23645" fill-opacity="0.7"/>
<rect x="507.94" y="159.89" width="1.5" height="10.26" fill="#f23645"/>
<rect x="510.30" y="141.80" width="1" height="19.90" fill="#2962ff" fill-opacity="0.7"/>
<rect x="510.05" y="145.97" width="1.5" height="11.76" fill="#2962ff"/>
<rect x="512.40" y="136.30" width="1" height="20.00" fill="#2962ff" fill-opacity="0.7"/>
<rect x="512.15" y="139.31" width="1.5" height="13.85" fill="#2962ff"/>
<rect x="514.51" y="143.60" width="1" height="47.20" fill="#f23645" fill-opacity="0.7"/>
<rect x="514.26" y="152.18" width="1.5" height="35.63" fill="#f23645"/>
<rect x="516.61" y="170.00" width="1" height="13.50" fill="#2962ff" fill-opacity="0.7"/>
<rect x="516.36" y="172.66" width="1.5" height="9.48" fill="#2962ff"/>
<rect x="518.72" y="160.00" width="1" height="20.00" fill="#2962ff" fill-opacity="0.7"/>
<rect x="518.47" y="161.30" width="1.5" height="16.64" fill="#2962ff"/>
<rect x="520.83" y="165.40" width="1" height="19.90" fill="#f23645" fill-opacity="0.7"/>
<rect x="520.58" y="169.30" width="1.5" height="14.19" fill="#f23645"/>
<rect x="522.93" y="173.60" width="1" height="54.40" fill="#f23645" fill-opacity="0.7"/>
<rect x="522.68" y="184.37" width="1.5" height="30.29" fill="#f23645"/>
<rect x="525.04" y="211.70" width="1" height="7.30" fill="#2962ff" fill-opacity="0.7"/>
<rect x="524.79" y="212.79" width="1.5" height="5.29" fill="#2962ff"/>
<rect x="527.14" y="206.30" width="1" height="10.70" fill="#2962ff" fill-opacity="0.7"/>
<rect x="526.89" y="207.86" width="1.5" height="7.14" fill="#2962ff"/>
<rect x="529.25" y="206.30" width="1" height="7.20" fill="#2962ff" fill-opacity="0.7"/>
<rect x="529.00" y="207.76" width="1.5" height="4.49" fill="#2962ff"/>
<rect x="531.36" y="208.00" width="1" height="14.60" fill="#f23645" fill-opacity="0.7"/>
<rect x="531.11" y="210.61" width="1.5" height="11.04" fill="#f23645"/>
<rect x="533.46" y="210.00" width="1" height="14.40" fill="#f23645" fill-opacity="0.7"/>
<rect x="533.21" y="211.14" width="1.5" height="11.80" fill="#f23645"/>
<rect x="535.57" y="222.00" width="1" height="24.00" fill="#f23645" fill-opacity="0.7"/>
<rect x="535.32" y="226.77" width="1.5" height="16.57" fill="#f23645"/>
<rect x="537.67" y="235.40" width="1" height="14.60" fill="#f23645" fill-opacity="0.7"/>
<rect x="537.42" y="237.79" width="1.5" height="11.45" fill="#f23645"/>
<rect x="539.78" y="236.80" width="1" height="14.50" fill="#f23645" fill-opacity="0.7"/>
<rect x="539.53" y="237.70" width="1.5" height="12.09" fill="#f23645"/>
<rect x="541.89" y="238.60" width="1" height="9.10" fill="#2962ff" fill-opacity="0.7"/>
<rect x="541.64" y="240.28" width="1.5" height="5.71" fill="#2962ff"/>
<rect x="543.99" y="236.80" width="1" height="21.80" fill="#f23645" fill-opacity="0.7"/>
<rect x="543.74" y="240.84" width="1.5" height="15.41" fill="#f23645"/>
<rect x="546.10" y="247.70" width="1" height="14.30" fill="#2962ff" fill-opacity="0.7"/>
<rect x="545.85" y="249.89" width="1.5" height="10.06" fill="#2962ff"/>
<rect x="548.20" y="238.60" width="1" height="18.10" fill="#2962ff" fill-opacity="0.7"/>
<rect x="547.95" y="241.19" width="1.5" height="14.17" fill="#2962ff"/>
<rect x="550.31" y="245.90" width="1" height="9.10" fill="#f23645" fill-opacity="0.7"/>
<rect x="550.06" y="247.98" width="1.5" height="6.20" fill="#f23645"/>
<rect x="552.42" y="247.70" width="1" height="19.90" fill="#f23645" fill-opacity="0.7"/>
<rect x="552.17" y="252.59" width="1.5" height="10.29" fill="#f23645"/>
<rect x="554.52" y="253.00" width="1" height="7.40" fill="#f23645" fill-opacity="0.7"/>
<rect x="554.27" y="253.40" width="1.5" height="5.95" fill="#f23645"/>
<rect x="556.63" y="242.00" width="1" height="27.40" fill="#f23645" fill-opacity="0.7"/>
<rect x="556.38" y="247.86" width="1.5" height="14.86" fill="#f23645"/>
<rect x="558.73" y="258.60" width="1" height="18.10" fill="#f23645" fill-opacity="0.7"/>
<rect x="558.48" y="261.13" width="1.5" height="13.69" fill="#f23645"/>
<rect x="560.84" y="269.40" width="1" height="16.40" fill="#f23645" fill-opacity="0.7"/>
<rect x="560.59" y="270.91" width="1.5" height="10.97" fill="#f23645"/>
<rect x="562.95" y="276.70" width="1" height="10.90" fill="#f23645" fill-opacity="0.7"/>
<rect x="562.70" y="277.70" width="1.5" height="8.08" fill="#f23645"/>
<rect x="565.05" y="275.00" width="1" height="12.60" fill="#f23645" fill-opacity="0.7"/>
<rect x="564.80" y="275.99" width="1.5" height="9.66" fill="#f23645"/>
<rect x="567.16" y="273.00" width="1" height="9.00" fill="#2962ff" fill-opacity="0.7"/>
<rect x="566.91" y="275.16" width="1.5" height="6.15" fill="#2962ff"/>
<rect x="569.26" y="269.40" width="1" height="14.60" fill="#f23645" fill-opacity="0.7"/>
<rect x="569.01" y="272.53" width="1.5" height="9.26" fill="#f23645"/>
<rect x="571.37" y="273.00" width="1" height="14.60" fill="#2962ff" fill-opacity="0.7"/>
<rect x="571.12" y="276.32" width="1.5" height="8.50" fill="#2962ff"/>
<rect x="573.48" y="273.00" width="1" height="17.30" fill="#2962ff" fill-opacity="0.7"/>
<rect x="573.23" y="274.67" width="1.5" height="11.66" fill="#2962ff"/>
<rect x="575.58" y="269.40" width="1" height="10.90" fill="#2962ff" fill-opacity="0.7"/>
<rect x="575.33" y="271.00" width="1.5" height="8.70" fill="#2962ff"/>
<rect x="577.69" y="269.40" width="1" height="7.30" fill="#2962ff" fill-opacity="0.7"/>
<rect x="577.44" y="269.77" width="1.5" height="5.85" fill="#2962ff"/>
<rect x="579.79" y="258.60" width="1" height="16.40" fill="#2962ff" fill-opacity="0.7"/>
<rect x="579.54" y="260.90" width="1.5" height="12.29" fill="#2962ff"/>
<rect x="581.90" y="251.30" width="1" height="10.70" fill="#2962ff" fill-opacity="0.7"/>
<rect x="581.65" y="252.14" width="1.5" height="8.59" fill="#2962ff"/>
<rect x="584.01" y="247.70" width="1" height="10.90" fill="#2962ff" fill-opacity="0.7"/>
<rect x="583.76" y="248.93" width="1.5" height="7.29" fill="#2962ff"/>
<rect x="586.11" y="233.00" width="1" height="22.00" fill="#2962ff" fill-opacity="0.7"/>
<rect x="585.86" y="234.11" width="1.5" height="16.49" fill="#2962ff"/>
<rect x="588.22" y="231.30" width="1" height="9.10" fill="#2962ff" fill-opacity="0.7"/>
<rect x="587.97" y="233.28" width="1.5" height="6.44" fill="#2962ff"/>
<rect x="590.32" y="227.70" width="1" height="9.10" fill="#2962ff" fill-opacity="0.7"/>
<rect x="590.07" y="229.84" width="1.5" height="5.21" fill="#2962ff"/>
<rect x="592.43" y="229.50" width="1" height="10.90" fill="#f23645" fill-opacity="0.7"/>
<rect x="592.18" y="232.01" width="1.5" height="7.21" fill="#f23645"/>
<rect x="594.54" y="231.70" width="1" height="12.30" fill="#f23645" fill-opacity="0.7"/>
<rect x="594.29" y="233.23" width="1.5" height="9.19" fill="#f23645"/>
<rect x="596.64" y="220.80" width="1" height="18.20" fill="#2962ff" fill-opacity="0.7"/>
<rect x="596.39" y="225.35" width="1.5" height="10.60" fill="#2962ff"/>
<rect x="598.75" y="197.00" width="1" height="39.80" fill="#2962ff" fill-opacity="0.7"/>
<rect x="598.50" y="201.86" width="1.5" height="29.54" fill="#2962ff"/>
<rect x="600.85" y="202.70" width="1" height="16.30" fill="#f23645" fill-opacity="0.7"/>
<rect x="600.60" y="204.41" width="1.5" height="13.62" fill="#f23645"/>
<rect x="602.96" y="211.70" width="1" height="18.30" fill="#f23645" fill-opacity="0.7"/>
<rect x="602.71" y="212.99" width="1.5" height="13.04" fill="#f23645"/>
<rect x="605.07" y="217.20" width="1" height="10.80" fill="#2962ff" fill-opacity="0.7"/>
<rect x="604.82" y="218.36" width="1.5" height="7.08" fill="#2962ff"/>
<rect x="607.17" y="213.60" width="1" height="10.80" fill="#2962ff" fill-opacity="0.7"/>
<rect x="606.92" y="214.68" width="1.5" height="8.61" fill="#2962ff"/>
<rect x="609.28" y="202.70" width="1" height="18.10" fill="#2962ff" fill-opacity="0.7"/>
<rect x="609.03" y="205.45" width="1.5" height="13.75" fill="#2962ff"/>
<rect x="611.38" y="213.60" width="1" height="10.80" fill="#f23645" fill-opacity="0.7"/>
<rect x="611.13" y="214.95" width="1.5" height="6.85" fill="#f23645"/>
<rect x="613.49" y="213.60" width="1" height="14.40" fill="#f23645" fill-opacity="0.7"/>
<rect x="613.24" y="216.87" width="1.5" height="8.07" fill="#f23645"/>
<rect x="615.60" y="219.00" width="1" height="11.00" fill="#f23645" fill-opacity="0.7"/>
<rect x="615.35" y="220.94" width="1.5" height="6.50" fill="#f23645"/>
<rect x="617.70" y="218.00" width="1" height="8.00" fill="#2962ff" fill-opacity="0.7"/>
<rect x="617.45" y="219.91" width="1.5" height="4.82" fill="#2962ff"/>
<rect x="619.81" y="215.80" width="1" height="9.20" fill="#2962ff" fill-opacity="0.7"/>
<rect x="619.56" y="217.58" width="1.5" height="6.86" fill="#2962ff"/>
<rect x="621.91" y="184.00" width="1" height="33.00" fill="#2962ff" fill-opacity="0.7"/>
<rect x="621.66" y="190.48" width="1.5" height="21.89" fill="#2962ff"/>
<rect x="624.02" y="186.30" width="1" height="6.70" fill="#f23645" fill-opacity="0.7"/>
<rect x="623.77" y="187.64" width="1.5" height="4.16" fill="#f23645"/>
<rect x="626.13" y="190.90" width="1" height="7.90" fill="#f23645" fill-opacity="0.7"/>
<rect x="625.88" y="191.75" width="1.5" height="6.58" fill="#f23645"/>
<rect x="628.23" y="197.70" width="1" height="10.30" fill="#f23645" fill-opacity="0.7"/>
<rect x="627.98" y="200.12" width="1.5" height="7.10" fill="#f23645"/>
<rect x="630.34" y="201.00" width="1" height="9.00" fill="#f23645" fill-opacity="0.7"/>
<rect x="630.09" y="202.30" width="1.5" height="6.63" fill="#f23645"/>
<rect x="632.44" y="197.70" width="1" height="14.70" fill="#f23645" fill-opacity="0.7"/>
<rect x="632.19" y="199.31" width="1.5" height="10.18" fill="#f23645"/>
<rect x="634.55" y="204.50" width="1" height="9.00" fill="#2962ff" fill-opacity="0.7"/>
<rect x="634.30" y="206.71" width="1.5" height="5.87" fill="#2962ff"/>
<rect x="636.66" y="190.90" width="1" height="26.10" fill="#2962ff" fill-opacity="0.7"/>
<rect x="636.41" y="195.63" width="1.5" height="18.50" fill="#2962ff"/>
<rect x="638.76" y="193.00" width="1" height="8.00" fill="#f23645" fill-opacity="0.7"/>
<rect x="638.51" y="194.29" width="1.5" height="5.68" fill="#f23645"/>
<rect x="640.87" y="193.00" width="1" height="12.60" fill="#f23645" fill-opacity="0.7"/>
<rect x="640.62" y="194.05" width="1.5" height="10.51" fill="#f23645"/>
<rect x="642.97" y="195.40" width="1" height="7.90" fill="#f23645" fill-opacity="0.7"/>
<rect x="642.72" y="196.12" width="1.5" height="5.35" fill="#f23645"/>
<rect x="645.08" y="162.70" width="1" height="40.60" fill="#2962ff" fill-opacity="0.7"/>
<rect x="644.83" y="168.77" width="1.5" height="30.72" fill="#2962ff"/>
<rect x="647.19" y="160.80" width="1" height="21.00" fill="#2962ff" fill-opacity="0.7"/>
<rect x="646.94" y="165.66" width="1.5" height="10.91" fill="#2962ff"/>
<rect x="649.29" y="146.30" width="1" height="25.40" fill="#2962ff" fill-opacity="0.7"/>
<rect x="649.04" y="149.86" width="1.5" height="19.87" fill="#2962ff"/>
<rect x="651.40" y="143.60" width="1" height="22.70" fill="#2962ff" fill-opacity="0.7"/>
<rect x="651.15" y="145.61" width="1.5" height="19.14" fill="#2962ff"/>
<rect x="653.50" y="150.00" width="1" height="16.30" fill="#f23645" fill-opacity="0.7"/>
<rect x="653.25" y="151.93" width="1.5" height="13.26" fill="#f23645"/>
<rect x="655.61" y="151.80" width="1" height="18.20" fill="#2962ff" fill-opacity="0.7"/>
<rect x="655.36" y="153.58" width="1.5" height="14.57" fill="#2962ff"/>
<rect x="657.72" y="150.00" width="1" height="9.00" fill="#f23645" fill-opacity="0.7"/>
<rect x="657.47" y="151.48" width="1.5" height="5.48" fill="#f23645"/>
<rect x="659.82" y="151.80" width="1" height="19.90" fill="#f23645" fill-opacity="0.7"/>
<rect x="659.57" y="155.78" width="1.5" height="13.28" fill="#f23645"/>
<rect x="661.93" y="148.00" width="1" height="23.70" fill="#2962ff" fill-opacity="0.7"/>
<rect x="661.68" y="151.15" width="1.5" height="16.88" fill="#2962ff"/>
<rect x="664.03" y="159.00" width="1" height="21.80" fill="#f23645" fill-opacity="0.7"/>
<rect x="663.78" y="161.73" width="1.5" height="16.50" fill="#f23645"/>
<rect x="666.14" y="171.70" width="1" height="12.70" fill="#f23645" fill-opacity="0.7"/>
<rect x="665.89" y="172.49" width="1.5" height="10.57" fill="#f23645"/>
<rect x="668.25" y="177.20" width="1" height="5.40" fill="#f23645" fill-opacity="0.7"/>
<rect x="668.00" y="178.52" width="1.5" height="3.68" fill="#f23645"/>
<rect x="670.35" y="180.80" width="1" height="9.20" fill="#f23645" fill-opacity="0.7"/>
<rect x="670.10" y="182.19" width="1.5" height="6.20" fill="#f23645"/>
<rect x="672.46" y="177.20" width="1" height="18.20" fill="#f23645" fill-opacity="0.7"/>
<rect x="672.21" y="181.25" width="1.5" height="12.45" fill="#f23645"/>
<rect x="674.56" y="184.40" width="1" height="12.80" fill="#f23645" fill-opacity="0.7"/>
<rect x="674.31" y="185.73" width="1.5" height="10.19" fill="#f23645"/>
<rect x="676.67" y="190.00" width="1" height="9.00" fill="#f23645" fill-opacity="0.7"/>
<rect x="676.42" y="191.17" width="1.5" height="6.58" fill="#f23645"/>
<rect x="678.78" y="191.70" width="1" height="9.10" fill="#f23645" fill-opacity="0.7"/>
<rect x="678.53" y="193.89" width="1.5" height="4.91" fill="#f23645"/>
<rect x="680.88" y="191.70" width="1" height="5.50" fill="#2962ff" fill-opacity="0.7"/>
<rect x="680.63" y="192.94" width="1.5" height="3.97" fill="#2962ff"/>
<rect x="682.99" y="184.40" width="1" height="12.80" fill="#2962ff" fill-opacity="0.7"/>
<rect x="682.74" y="185.12" width="1.5" height="9.62" fill="#2962ff"/>
<rect x="685.09" y="186.30" width="1" height="10.90" fill="#f23645" fill-opacity="0.7"/>
<rect x="684.84" y="188.80" width="1.5" height="6.83" fill="#f23645"/>
<rect x="687.20" y="186.30" width="1" height="9.10" fill="#2962ff" fill-opacity="0.7"/>
<rect x="686.95" y="187.82" width="1.5" height="7.12" fill="#2962ff"/>
<rect x="689.31" y="188.00" width="1" height="20.00" fill="#f23645" fill-opacity="0.7"/>
<rect x="689.06" y="190.57" width="1.5" height="12.73" fill="#f23645"/>
<rect x="691.41" y="198.00" width="1" height="11.00" fill="#2962ff" fill-opacity="0.7"/>
<rect x="691.16" y="200.37" width="1.5" height="6.20" fill="#2962ff"/>
<rect x="693.52" y="196.30" width="1" height="10.90" fill="#2962ff" fill-opacity="0.7"/>
<rect x="693.27" y="198.96" width="1.5" height="7.15" fill="#2962ff"/>
<rect x="695.62" y="191.00" width="1" height="21.70" fill="#f23645" fill-opacity="0.7"/>
<rect x="695.37" y="192.56" width="1.5" height="18.39" fill="#f23645"/>
<rect x="697.73" y="196.30" width="1" height="12.70" fill="#2962ff" fill-opacity="0.7"/>
<rect x="697.48" y="198.26" width="1.5" height="8.37" fill="#2962ff"/>
<rect x="699.84" y="209.00" width="1" height="32.70" fill="#f23645" fill-opacity="0.7"/>
<rect x="699.59" y="216.79" width="1.5" height="18.55" fill="#f23645"/>
<rect x="701.94" y="236.00" width="1" height="17.00" fill="#2962ff" fill-opacity="0.7"/>
<rect x="701.69" y="239.05" width="1.5" height="10.50" fill="#2962ff"/>
<rect x="704.05" y="234.00" width="1" height="16.80" fill="#f23645" fill-opacity="0.7"/>
<rect x="703.80" y="236.38" width="1.5" height="11.73" fill="#f23645"/>
<rect x="706.15" y="240.00" width="1" height="20.00" fill="#f23645" fill-opacity="0.7"/>
<rect x="705.90" y="241.16" width="1.5" height="14.71" fill="#f23645"/>
<rect x="708.26" y="245.30" width="1" height="10.90" fill="#2962ff" fill-opacity="0.7"/>
<rect x="708.01" y="246.35" width="1.5" height="7.30" fill="#2962ff"/>
<rect x="710.37" y="236.80" width="1" height="25.80" fill="#2962ff" fill-opacity="0.7"/>
<rect x="710.12" y="241.42" width="1.5" height="18.32" fill="#2962ff"/>
<rect x="712.47" y="230.00" width="1" height="22.00" fill="#2962ff" fill-opacity="0.7"/>
<rect x="712.22" y="231.66" width="1.5" height="18.13" fill="#2962ff"/>
<rect x="714.58" y="229.00" width="1" height="18.00" fill="#2962ff" fill-opacity="0.7"/>
<rect x="714.33" y="232.19" width="1.5" height="11.39" fill="#2962ff"/>
<rect x="716.68" y="240.90" width="1" height="9.50" fill="#2962ff" fill-opacity="0.7"/>
<rect x="716.43" y="241.59" width="1.5" height="8.20" fill="#2962ff"/>
<rect x="718.79" y="235.40" width="1" height="11.60" fill="#2962ff" fill-opacity="0.7"/>
<rect x="718.54" y="237.20" width="1.5" height="7.87" fill="#2962ff"/>
<rect x="720.90" y="230.00" width="1" height="17.70" fill="#f23645" fill-opacity="0.7"/>
<rect x="720.65" y="232.26" width="1.5" height="13.76" fill="#f23645"/>
<rect x="723.00" y="247.70" width="1" height="23.10" fill="#f23645" fill-opacity="0.7"/>
<rect x="722.75" y="251.63" width="1.5" height="17.96" fill="#f23645"/>
<rect x="725.11" y="250.40" width="1" height="24.60" fill="#f23645" fill-opacity="0.7"/>
<rect x="724.86" y="253.11" width="1.5" height="18.39" fill="#f23645"/>
<rect x="727.21" y="254.50" width="1" height="9.50" fill="#2962ff" fill-opacity="0.7"/>
<rect x="726.96" y="256.80" width="1.5" height="5.50" fill="#2962ff"/>
<rect x="729.32" y="251.80" width="1" height="14.90" fill="#f23645" fill-opacity="0.7"/>
<rect x="729.07" y="255.18" width="1.5" height="9.36" fill="#f23645"/>
<rect x="731.43" y="246.30" width="1" height="12.30" fill="#2962ff" fill-opacity="0.7"/>
<rect x="731.18" y="247.49" width="1.5" height="9.88" fill="#2962ff"/>
<rect x="733.53" y="242.20" width="1" height="15.00" fill="#2962ff" fill-opacity="0.7"/>
<rect x="733.28" y="245.83" width="1.5" height="8.50" fill="#2962ff"/>
<rect x="735.64" y="230.00" width="1" height="20.40" fill="#2962ff" fill-opacity="0.7"/>
<rect x="735.39" y="232.27" width="1.5" height="17.02" fill="#2962ff"/>
<rect x="737.74" y="235.40" width="1" height="20.40" fill="#f23645" fill-opacity="0.7"/>
<rect x="737.49" y="238.45" width="1.5" height="13.58" fill="#f23645"/>
<rect x="739.85" y="246.30" width="1" height="8.20" fill="#f23645" fill-opacity="0.7"/>
<rect x="739.60" y="247.40" width="1.5" height="6.27" fill="#f23645"/>
<rect x="741.96" y="242.20" width="1" height="13.60" fill="#f23645" fill-opacity="0.7"/>
<rect x="741.71" y="244.70" width="1.5" height="7.91" fill="#f23645"/>
<rect x="744.06" y="246.30" width="1" height="8.20" fill="#f23645" fill-opacity="0.7"/>
<rect x="743.81" y="247.08" width="1.5" height="6.95" fill="#f23645"/>
<rect x="746.17" y="239.50" width="1" height="16.30" fill="#2962ff" fill-opacity="0.7"/>
<rect x="745.92" y="241.42" width="1.5" height="12.20" fill="#2962ff"/>
<rect x="748.27" y="220.80" width="1" height="21.20" fill="#2962ff" fill-opacity="0.7"/>
<rect x="748.02" y="224.75" width="1.5" height="15.35" fill="#2962ff"/>
<rect x="750.38" y="202.70" width="1" height="29.00" fill="#2962ff" fill-opacity="0.7"/>
<rect x="750.13" y="208.77" width="1.5" height="17.19" fill="#2962ff"/>
<rect x="752.49" y="200.80" width="1" height="10.90" fill="#f23645" fill-opacity="0.7"/>
<rect x="752.24" y="202.45" width="1.5" height="8.26" fill="#f23645"/>
<rect x="754.59" y="202.70" width="1" height="16.30" fill="#f23645" fill-opacity="0.7"/>
<rect x="754.34" y="206.68" width="1.5" height="10.49" fill="#f23645"/>
<rect x="756.70" y="197.20" width="1" height="16.40" fill="#2962ff" fill-opacity="0.7"/>
<rect x="756.45" y="200.71" width="1.5" height="11.31" fill="#2962ff"/>
<rect x="758.80" y="193.60" width="1" height="12.70" fill="#2962ff" fill-opacity="0.7"/>
<rect x="758.55" y="194.80" width="1.5" height="8.94" fill="#2962ff"/>
<rect x="760.91" y="193.60" width="1" height="34.40" fill="#f23645" fill-opacity="0.7"/>
<rect x="760.66" y="197.35" width="1.5" height="22.38" fill="#f23645"/>
<rect x="763.02" y="192.70" width="1" height="35.30" fill="#2962ff" fill-opacity="0.7"/>
<rect x="762.77" y="197.97" width="1.5" height="26.95" fill="#2962ff"/>
<rect x="765.12" y="188.60" width="1" height="8.20" fill="#2962ff" fill-opacity="0.7"/>
<rect x="764.87" y="189.38" width="1.5" height="6.33" fill="#2962ff"/>
<rect x="767.23" y="178.40" width="1" height="14.30" fill="#2962ff" fill-opacity="0.7"/>
<rect x="766.98" y="181.02" width="1.5" height="8.25" fill="#2962ff"/>
<rect x="769.33" y="177.70" width="1" height="13.60" fill="#2962ff" fill-opacity="0.7"/>
<rect x="769.08" y="178.78" width="1.5" height="10.77" fill="#2962ff"/>
<rect x="771.44" y="186.00" width="1" height="20.30" fill="#f23645" fill-opacity="0.7"/>
<rect x="771.19" y="187.88" width="1.5" height="13.45" fill="#f23645"/>
<rect x="773.55" y="190.00" width="1" height="16.30" fill="#2962ff" fill-opacity="0.7"/>
<rect x="773.30" y="191.28" width="1.5" height="14.04" fill="#2962ff"/>
<rect x="775.65" y="187.20" width="1" height="9.60" fill="#2962ff" fill-opacity="0.7"/>
<rect x="775.40" y="187.80" width="1.5" height="7.77" fill="#2962ff"/>
<rect x="777.76" y="191.30" width="1" height="5.50" fill="#2962ff" fill-opacity="0.7"/>
<rect x="777.51" y="192.56" width="1.5" height="2.99" fill="#2962ff"/>
<rect x="779.86" y="187.20" width="1" height="15.00" fill="#f23645" fill-opacity="0.7"/>
<rect x="779.61" y="190.15" width="1.5" height="8.31" fill="#f23645"/>
<rect x="781.97" y="196.80" width="1" height="5.40" fill="#f23645" fill-opacity="0.7"/>
<rect x="781.72" y="198.08" width="1.5" height="3.50" fill="#f23645"/>
<rect x="784.08" y="198.00" width="1" height="15.00" fill="#f23645" fill-opacity="0.7"/>
<rect x="783.83" y="199.31" width="1.5" height="10.14" fill="#f23645"/>
<rect x="786.18" y="206.30" width="1" height="17.70" fill="#2962ff" fill-opacity="0.7"/>
<rect x="785.93" y="209.83" width="1.5" height="13.18" fill="#2962ff"/>
<rect x="788.29" y="183.00" width="1" height="27.40" fill="#2962ff" fill-opacity="0.7"/>
<rect x="788.04" y="188.01" width="1.5" height="18.94" fill="#2962ff"/>
<rect x="790.39" y="186.00" width="1" height="6.70" fill="#f23645" fill-opacity="0.7"/>
<rect x="790.14" y="186.84" width="1.5" height="5.08" fill="#f23645"/>
<rect x="792.50" y="182.84" width="1" height="14.47" fill="#2962ff" fill-opacity="0.7"/>
<rect x="792.25" y="184.98" width="1.5" height="10.82" fill="#2962ff"/>
<rect x="616" y="146.4" width="342.5" height="1.7" fill="#4caf50"/>
<rect x="626" y="213.4" width="332.5" height="1.7" fill="#4caf50"/>
<rect x="548.5" y="291.6" width="410" height="1.7" fill="#4caf50"/>
<rect x="9" y="347.2" width="949.5" height="2" fill="#2962ff"/>
<line x1="-20" y1="255.2" x2="700" y2="10.5" stroke="#2962ff" stroke-width="2"/>
<line x1="249.9" y1="53.6" x2="665.8" y2="182.8" stroke="#f0f0f0" stroke-width="2" stroke-linecap="round"/>
<line x1="249.9" y1="195.7" x2="664.6" y2="323.8" stroke="#f0f0f0" stroke-width="2" stroke-linecap="round"/>
<line x1="571.7" y1="163.6" x2="914.8" y2="95.3" stroke="#f0f0f0" stroke-width="2" stroke-linecap="round"/>
<line x1="571.7" y1="292.5" x2="915.1" y2="224.4" stroke="#f0f0f0" stroke-width="2" stroke-linecap="round"/>
</g>
<text x="16.3" y="40.2" font-family="'Liberation Sans','Noto Sans CJK JP',sans-serif" font-size="10.5" fill="#e6e6e6" font-weight="normal" text-anchor="start" textLength="141.4" lengthAdjust="spacingAndGlyphs" stroke="#e6e6e6" stroke-width="0.35">ユーロ／米ドル・4時間・FXCM</text>
<text x="164.4" y="40.2" font-family="'Liberation Sans','Noto Sans CJK JP',sans-serif" font-size="10.5" fill="#e6e6e6" font-weight="normal" text-anchor="start" textLength="20.5" lengthAdjust="spacingAndGlyphs" stroke="#e6e6e6" stroke-width="0.35">始値</text>
<text x="185.5" y="40.2" font-family="'Liberation Sans','Noto Sans CJK JP',sans-serif" font-size="11" fill="#2962ff" font-weight="normal" text-anchor="start" textLength="35.1" lengthAdjust="spacingAndGlyphs" stroke="#2962ff" stroke-width="0.35">1.15914</text>
<text x="227.7" y="40.2" font-family="'Liberation Sans','Noto Sans CJK JP',sans-serif" font-size="10.5" fill="#e6e6e6" font-weight="normal" text-anchor="start" textLength="20.5" lengthAdjust="spacingAndGlyphs" stroke="#e6e6e6" stroke-width="0.35">高値</text>
<text x="247.9" y="40.2" font-family="'Liberation Sans','Noto Sans CJK JP',sans-serif" font-size="11" fill="#2962ff" font-weight="normal" text-anchor="start" textLength="34.2" lengthAdjust="spacingAndGlyphs" stroke="#2962ff" stroke-width="0.35">1.16077</text>
<text x="290" y="40.2" font-family="'Liberation Sans','Noto Sans CJK JP',sans-serif" font-size="10.5" fill="#e6e6e6" font-weight="normal" text-anchor="start" textLength="20.5" lengthAdjust="spacingAndGlyphs" stroke="#e6e6e6" stroke-width="0.35">安値</text>
<text x="311.1" y="40.2" font-family="'Liberation Sans','Noto Sans CJK JP',sans-serif" font-size="11" fill="#2962ff" font-weight="normal" text-anchor="start" textLength="34.7" lengthAdjust="spacingAndGlyphs" stroke="#2962ff" stroke-width="0.35">1.15895</text>
<text x="352" y="40.2" font-family="'Liberation Sans','Noto Sans CJK JP',sans-serif" font-size="10.5" fill="#e6e6e6" font-weight="normal" text-anchor="start" textLength="20.5" lengthAdjust="spacingAndGlyphs" stroke="#e6e6e6" stroke-width="0.35">終値</text>
<text x="374" y="40.2" font-family="'Liberation Sans','Noto Sans CJK JP',sans-serif" font-size="11" fill="#2962ff" font-weight="normal" text-anchor="start" textLength="35" lengthAdjust="spacingAndGlyphs" stroke="#2962ff" stroke-width="0.35">1.16050</text>
<text x="416" y="40.2" font-family="'Liberation Sans','Noto Sans CJK JP',sans-serif" font-size="11" fill="#2962ff" font-weight="normal" text-anchor="start" textLength="40.5" lengthAdjust="spacingAndGlyphs" stroke="#2962ff" stroke-width="0.35">+0.00092</text>
<text x="461" y="40.2" font-family="'Liberation Sans','Noto Sans CJK JP',sans-serif" font-size="11" fill="#2962ff" font-weight="normal" text-anchor="start" textLength="37.7" lengthAdjust="spacingAndGlyphs" stroke="#2962ff" stroke-width="0.35">(+0.08%)</text>
<rect x="962.4" y="26.6" width="49.2" height="21.8" rx="3.5" fill="#181818" stroke="#2a2a2a" stroke-width="1"/>
<text x="970.4" y="41.7" font-family="'Liberation Sans','Noto Sans CJK JP',sans-serif" font-size="11" fill="#dcdcdc" font-weight="normal" text-anchor="start" textLength="17.5" lengthAdjust="spacingAndGlyphs" stroke="#dcdcdc" stroke-width="0.35">USD</text>
<text x="967.3" y="73.5" font-family="'Liberation Sans','Noto Sans CJK JP',sans-serif" font-size="11" fill="#d8d8d8" font-weight="normal" text-anchor="start" textLength="35.7" lengthAdjust="spacingAndGlyphs" stroke="#d8d8d8" stroke-width="0.35">1.17500</text>
<text x="967.3" y="113.2" font-family="'Liberation Sans','Noto Sans CJK JP',sans-serif" font-size="11" fill="#d8d8d8" font-weight="normal" text-anchor="start" textLength="35.7" lengthAdjust="spacingAndGlyphs" stroke="#d8d8d8" stroke-width="0.35">1.17000</text>
<text x="967.3" y="153.0" font-family="'Liberation Sans','Noto Sans CJK JP',sans-serif" font-size="11" fill="#d8d8d8" font-weight="normal" text-anchor="start" textLength="35.7" lengthAdjust="spacingAndGlyphs" stroke="#d8d8d8" stroke-width="0.35">1.16500</text>
<text x="967.3" y="272.3" font-family="'Liberation Sans','Noto Sans CJK JP',sans-serif" font-size="11" fill="#d8d8d8" font-weight="normal" text-anchor="start" textLength="35.7" lengthAdjust="spacingAndGlyphs" stroke="#d8d8d8" stroke-width="0.35">1.15000</text>
<text x="967.3" y="312.1" font-family="'Liberation Sans','Noto Sans CJK JP',sans-serif" font-size="11" fill="#d8d8d8" font-weight="normal" text-anchor="start" textLength="35.7" lengthAdjust="spacingAndGlyphs" stroke="#d8d8d8" stroke-width="0.35">1.14500</text>
<text x="967.3" y="351.2" font-family="'Liberation Sans','Noto Sans CJK JP',sans-serif" font-size="11" fill="#d8d8d8" font-weight="normal" text-anchor="start" textLength="35.7" lengthAdjust="spacingAndGlyphs" stroke="#d8d8d8" stroke-width="0.35">1.14000</text>
<path d="M959.2,177.1 H1009.1 a2,2 0 0 1 2,2 V202.6 a2,2 0 0 1 -2,2 H959.2 Z" fill="#2962ff"/>
<text x="967.3" y="189.3" font-family="'Liberation Sans','Noto Sans CJK JP',sans-serif" font-size="11" fill="#ffffff" font-weight="normal" text-anchor="start" textLength="35.7" lengthAdjust="spacingAndGlyphs" stroke="#ffffff" stroke-width="0.35">1.16050</text>
<text x="965.5" y="201.0" font-family="'Liberation Sans','Noto Sans CJK JP',sans-serif" font-size="11" fill="#ffffff" font-weight="normal" text-anchor="start" textLength="40" lengthAdjust="spacingAndGlyphs" stroke="#ffffff" stroke-width="0.35">02:39:19</text>
<rect x="959.2" y="204.6" width="47.9" height="13" fill="#b4b4b4"/>
<text x="967.3" y="215.6" font-family="'Liberation Sans','Noto Sans CJK JP',sans-serif" font-size="11" fill="#111" font-weight="normal" text-anchor="start" textLength="35.7" lengthAdjust="spacingAndGlyphs" stroke="#111" stroke-width="0.35">1.15895</text>
<rect x="959.2" y="217.6" width="47.9" height="15.9" fill="#ffe03a"/>
<text x="967.3" y="229.9" font-family="'Liberation Sans','Noto Sans CJK JP',sans-serif" font-size="11" fill="#111" font-weight="normal" text-anchor="start" textLength="35.7" lengthAdjust="spacingAndGlyphs" stroke="#111" stroke-width="0.35">1.15869</text>
<rect x="959.4" y="351" width="39.2" height="14.5" fill="#22ab94"/>
<text x="967" y="362" font-family="'Liberation Sans','Noto Sans CJK JP',sans-serif" font-size="10" fill="#ffffff" font-weight="normal" text-anchor="start" textLength="27" lengthAdjust="spacingAndGlyphs" stroke="#ffffff" stroke-width="0.2">3.83 K</text>
<g clip-path="url(#cc)">
<text x="8.3" y="382.1" font-family="'Liberation Sans','Noto Sans CJK JP',sans-serif" font-size="11" fill="#e8e8e8" font-weight="normal" text-anchor="middle" stroke="#e8e8e8" stroke-width="0.45">4</text>
<text x="59.35" y="382.1" font-family="'Liberation Sans','Noto Sans CJK JP',sans-serif" font-size="11" fill="#e8e8e8" font-weight="normal" text-anchor="middle" stroke="#e8e8e8" stroke-width="0.45">10</text>
<text x="109.6" y="382.1" font-family="'Liberation Sans','Noto Sans CJK JP',sans-serif" font-size="11" fill="#e8e8e8" font-weight="normal" text-anchor="middle" stroke="#e8e8e8" stroke-width="0.45">16</text>
<text x="160.4" y="382.1" font-family="'Liberation Sans','Noto Sans CJK JP',sans-serif" font-size="11" fill="#e8e8e8" font-weight="normal" text-anchor="middle" stroke="#e8e8e8" stroke-width="0.45">20</text>
<text x="248.2" y="382.1" font-family="'Liberation Sans','Noto Sans CJK JP',sans-serif" font-size="11" fill="#e8e8e8" font-weight="bold" text-anchor="middle">10月</text>
<text x="298.6" y="382.1" font-family="'Liberation Sans','Noto Sans CJK JP',sans-serif" font-size="11" fill="#e8e8e8" font-weight="normal" text-anchor="middle" stroke="#e8e8e8" stroke-width="0.45">7</text>
<text x="348.8" y="382.1" font-family="'Liberation Sans','Noto Sans CJK JP',sans-serif" font-size="11" fill="#e8e8e8" font-weight="normal" text-anchor="middle" stroke="#e8e8e8" stroke-width="0.45">11</text>
<text x="399" y="382.1" font-family="'Liberation Sans','Noto Sans CJK JP',sans-serif" font-size="11" fill="#e8e8e8" font-weight="normal" text-anchor="middle" stroke="#e8e8e8" stroke-width="0.45">17</text>
<text x="449.8" y="382.1" font-family="'Liberation Sans','Noto Sans CJK JP',sans-serif" font-size="11" fill="#e8e8e8" font-weight="normal" text-anchor="middle" stroke="#e8e8e8" stroke-width="0.45">23</text>
<text x="538.3" y="382.1" font-family="'Liberation Sans','Noto Sans CJK JP',sans-serif" font-size="11" fill="#e8e8e8" font-weight="bold" text-anchor="middle">11月</text>
<text x="588.5" y="382.1" font-family="'Liberation Sans','Noto Sans CJK JP',sans-serif" font-size="11" fill="#e8e8e8" font-weight="normal" text-anchor="middle" stroke="#e8e8e8" stroke-width="0.45">7</text>
<text x="639.3" y="382.1" font-family="'Liberation Sans','Noto Sans CJK JP',sans-serif" font-size="11" fill="#e8e8e8" font-weight="normal" text-anchor="middle" stroke="#e8e8e8" stroke-width="0.45">13</text>
<text x="689.5" y="382.1" font-family="'Liberation Sans','Noto Sans CJK JP',sans-serif" font-size="11" fill="#e8e8e8" font-weight="normal" text-anchor="middle" stroke="#e8e8e8" stroke-width="0.45">19</text>
<text x="739.8" y="382.1" font-family="'Liberation Sans','Noto Sans CJK JP',sans-serif" font-size="11" fill="#e8e8e8" font-weight="normal" text-anchor="middle" stroke="#e8e8e8" stroke-width="0.45">25</text>
<text x="793" y="382.1" font-family="'Liberation Sans','Noto Sans CJK JP',sans-serif" font-size="11" fill="#e8e8e8" font-weight="bold" text-anchor="middle">12月</text>
<text x="840.7" y="382.1" font-family="'Liberation Sans','Noto Sans CJK JP',sans-serif" font-size="11" fill="#e8e8e8" font-weight="normal" text-anchor="middle" stroke="#e8e8e8" stroke-width="0.45">5</text>
<text x="891.2" y="382.1" font-family="'Liberation Sans','Noto Sans CJK JP',sans-serif" font-size="11" fill="#e8e8e8" font-weight="normal" text-anchor="middle" stroke="#e8e8e8" stroke-width="0.45">11</text>
<text x="942" y="382.1" font-family="'Liberation Sans','Noto Sans CJK JP',sans-serif" font-size="11" fill="#e8e8e8" font-weight="normal" text-anchor="middle" stroke="#e8e8e8" stroke-width="0.45">17</text>
</g>
<circle cx="813.3" cy="354.2" r="8.3" fill="#c9202e"/><circle cx="813.3" cy="354.2" r="6.8" fill="#2c5fd0"/><circle cx="816.90" cy="354.20" r="0.6" fill="#e6d23a"/><circle cx="815.85" cy="356.75" r="0.6" fill="#e6d23a"/><circle cx="813.30" cy="357.80" r="0.6" fill="#e6d23a"/><circle cx="810.75" cy="356.75" r="0.6" fill="#e6d23a"/><circle cx="809.70" cy="354.20" r="0.6" fill="#e6d23a"/><circle cx="810.75" cy="351.65" r="0.6" fill="#e6d23a"/><circle cx="813.30" cy="350.60" r="0.6" fill="#e6d23a"/><circle cx="815.85" cy="351.65" r="0.6" fill="#e6d23a"/>
<circle cx="800.6" cy="354.2" r="8.3" fill="#c9202e"/><clipPath id="f800"><circle cx="800.6" cy="354.2" r="6.8"/></clipPath><g clip-path="url(#f800)"><rect x="793.6" y="347.2" width="14" height="14" fill="#fff"/><rect x="793.6" y="348.0" width="14" height="1.7" fill="#e8343e"/><rect x="793.6" y="351.3" width="14" height="1.7" fill="#e8343e"/><rect x="793.6" y="354.6" width="14" height="1.7" fill="#e8343e"/><rect x="793.6" y="357.9" width="14" height="1.7" fill="#e8343e"/><rect x="793.6" y="347.2" width="7" height="7" fill="#3b66d8"/></g>
<circle cx="827.2" cy="354.2" r="8.3" fill="#c9202e"/><clipPath id="f827"><circle cx="827.2" cy="354.2" r="6.8"/></clipPath><g clip-path="url(#f827)"><rect x="820.2" y="347.2" width="14" height="14" fill="#fff"/><rect x="820.2" y="348.0" width="14" height="1.7" fill="#e8343e"/><rect x="820.2" y="351.3" width="14" height="1.7" fill="#e8343e"/><rect x="820.2" y="354.6" width="14" height="1.7" fill="#e8343e"/><rect x="820.2" y="357.9" width="14" height="1.7" fill="#e8343e"/><rect x="820.2" y="347.2" width="7" height="7" fill="#3b66d8"/></g>
<circle cx="851.7" cy="354.2" r="8.3" fill="#c9202e"/><clipPath id="f851"><circle cx="851.7" cy="354.2" r="6.8"/></clipPath><g clip-path="url(#f851)"><rect x="844.7" y="347.2" width="14" height="14" fill="#fff"/><rect x="844.7" y="348.0" width="14" height="1.7" fill="#e8343e"/><rect x="844.7" y="351.3" width="14" height="1.7" fill="#e8343e"/><rect x="844.7" y="354.6" width="14" height="1.7" fill="#e8343e"/><rect x="844.7" y="357.9" width="14" height="1.7" fill="#e8343e"/><rect x="844.7" y="347.2" width="7" height="7" fill="#3b66d8"/></g>
<g fill="#131313"><path d="M10.35,408.25 H20.4 V420.8 H15.2 V413.4 H10.35 Z"/><circle cx="24.76" cy="410.7" r="2.45"/><path d="M29.9,408.25 H35.6 L30.7,420.8 H25.3 Z"/></g>
<text x="42.2" y="420.8" font-family="'Liberation Sans','Noto Sans CJK JP',sans-serif" font-size="17.5" fill="#131313" stroke="#131313" stroke-width="0.9" textLength="103" lengthAdjust="spacingAndGlyphs">TradingView</text>
</svg></body></html>
